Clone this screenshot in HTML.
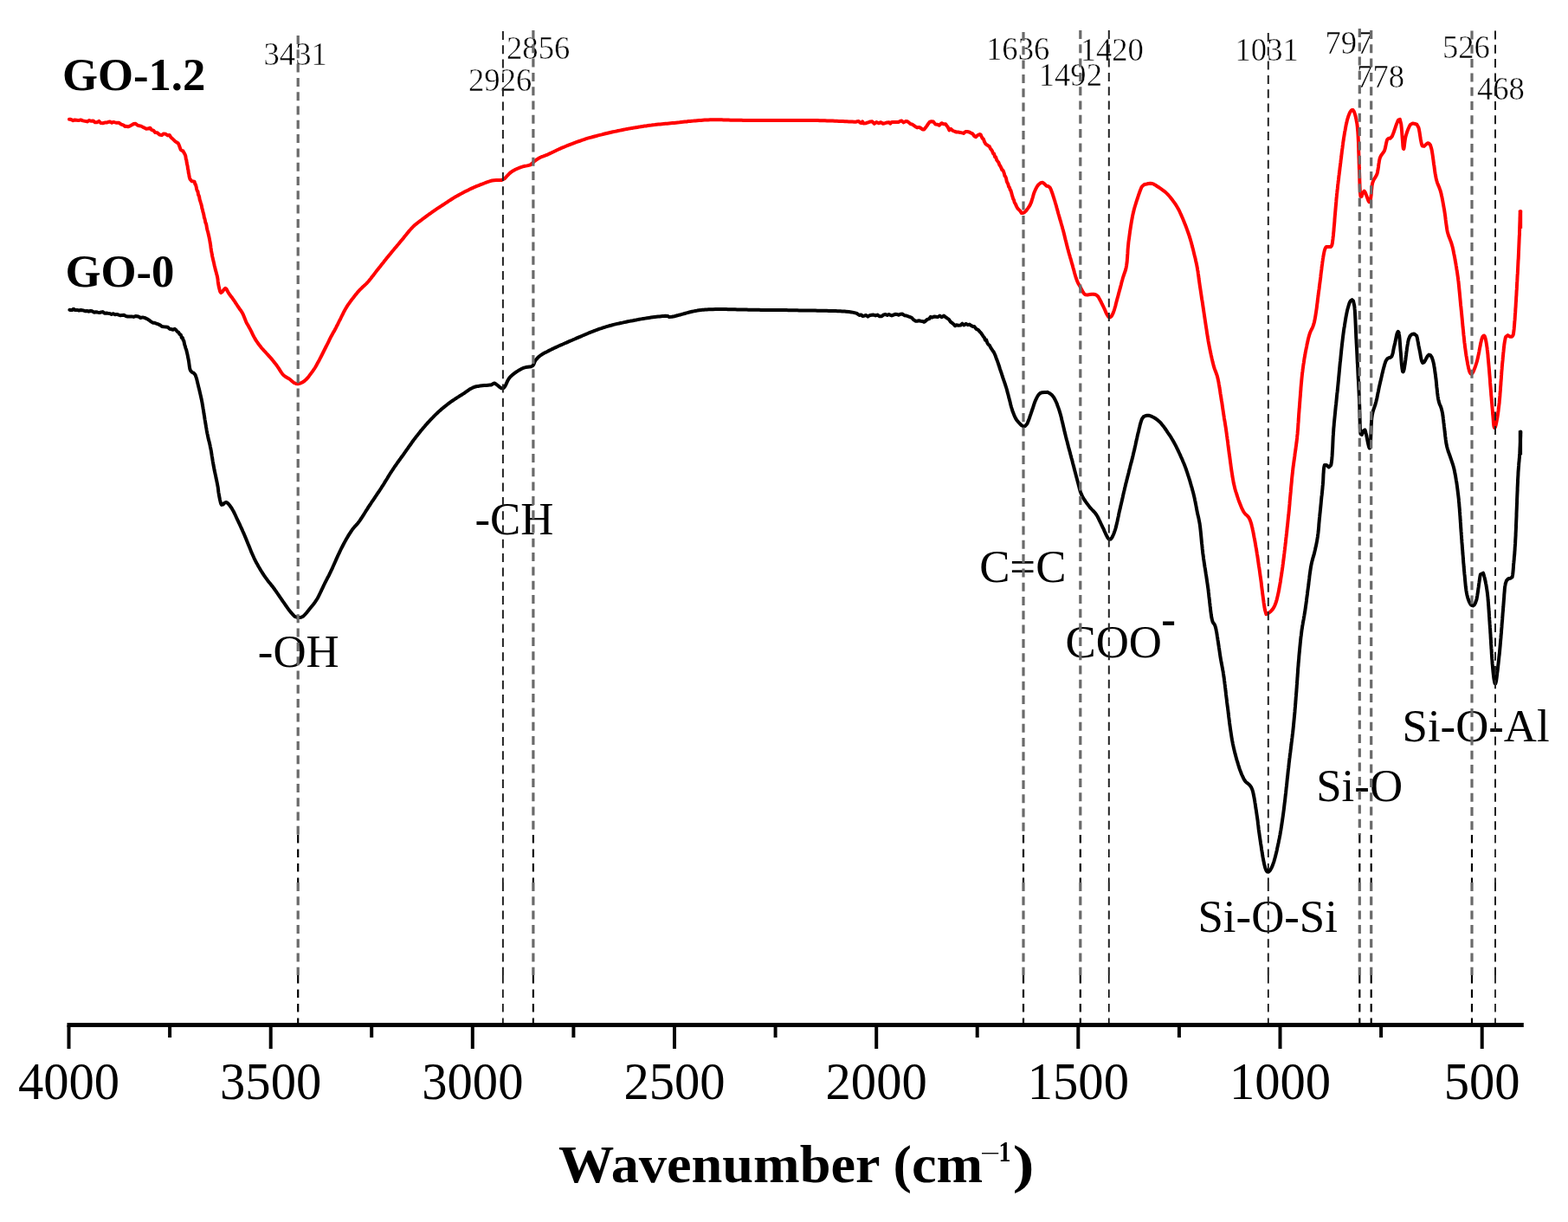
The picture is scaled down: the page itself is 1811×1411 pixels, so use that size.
<!DOCTYPE html>
<html><head><meta charset="utf-8"><title>FTIR spectra</title>
<style>html,body{margin:0;padding:0;background:#fff;}svg{display:block;}</style>
</head><body>
<svg width="1811" height="1411" viewBox="0 0 1811 1411">
<rect width="1811" height="1411" fill="#fff"/>
<path d="M79.9,137.8 L81.1,137.8 L82.6,138.2 L84.4,139.2 L86.4,138.4 L88.5,138.7 L90.8,139.1 L93.2,138.4 L95.7,139.4 L98.2,139.9 L100.7,140.4 L103.1,139.1 L105.4,139.8 L107.7,139.5 L109.7,141.3 L112.0,141.2 L114.3,139.9 L116.5,142.1 L118.8,142.2 L121.0,141.6 L123.1,141.6 L125.2,140.8 L127.3,140.6 L129.2,141.8 L131.1,140.9 L132.9,141.4 L134.5,141.7 L137.5,141.8 L140.0,143.6 L142.3,144.3 L144.3,145.9 L146.1,145.8 L147.8,146.3 L150.4,145.3 L152.3,144.3 L154.4,143.0 L156.5,142.7 L158.7,144.6 L161.0,145.2 L163.0,145.6 L165.2,146.9 L167.1,147.8 L168.9,148.8 L171.1,148.6 L173.4,147.7 L175.2,150.1 L177.2,150.7 L179.4,153.1 L181.7,153.2 L184.2,155.5 L186.8,156.1 L189.0,154.4 L191.4,154.8 L193.7,156.4 L195.7,155.9 L197.5,158.8 L198.9,159.9 L200.2,161.1 L202.5,163.4 L204.7,164.8 L205.7,165.3 L206.5,166.9 L207.6,169.8 L208.6,172.7 L209.9,173.9 L211.3,174.2 L212.5,176.4 L213.6,178.2 L214.3,180.1 L214.8,183.8 L215.3,184.7 L215.7,187.9 L216.1,190.0 L216.6,191.8 L217.0,195.2 L217.4,196.2 L217.8,199.8 L218.2,201.0 L218.6,203.9 L219.0,205.3 L219.5,206.9 L221.7,209.3 L224.0,209.6 L224.6,209.7 L225.3,212.6 L225.9,213.0 L226.6,215.5 L227.2,218.7 L227.9,220.4 L228.5,221.4 L229.1,225.3 L229.6,225.5 L230.2,227.6 L230.7,230.8 L231.2,231.9 L231.8,234.0 L232.3,235.6 L232.9,237.8 L233.4,240.8 L233.9,242.0 L234.4,244.7 L234.9,246.1 L235.4,248.3 L235.9,251.4 L236.4,252.4 L236.9,254.6 L237.4,257.3 L237.9,257.9 L238.4,260.0 L239.0,263.8 L239.5,265.8 L240.0,267.3 L240.5,269.5 L241.0,271.7 L241.5,273.8 L241.9,275.9 L242.3,278.0 L242.6,280.0 L243.0,282.0 L243.3,284.0 L243.5,286.0 L243.8,287.9 L244.1,289.9 L244.5,291.8 L244.8,293.7 L245.2,295.9 L245.7,298.0 L246.2,300.2 L246.7,302.3 L247.2,304.4 L247.6,306.4 L248.1,308.3 L248.5,310.0 L249.1,312.4 L249.7,314.5 L250.2,316.4 L250.7,318.2 L251.1,320.0 L251.5,322.4 L251.7,324.7 L252.0,326.9 L252.4,329.2 L252.9,331.8 L253.6,334.5 L254.3,336.8 L255.2,338.0 L256.8,336.9 L258.6,334.3 L260.3,332.9 L261.6,333.9 L262.7,336.0 L264.0,338.4 L265.2,340.1 L266.6,341.9 L268.1,343.8 L269.5,345.8 L270.9,347.8 L272.2,349.9 L273.6,352.0 L275.0,354.1 L276.4,356.2 L277.9,358.2 L279.3,360.3 L280.5,362.4 L281.5,364.7 L282.4,367.0 L283.3,369.3 L284.2,371.6 L285.3,373.7 L286.4,375.6 L287.6,377.7 L288.8,379.9 L289.7,381.6 L290.6,383.4 L291.5,385.3 L292.4,387.3 L293.4,389.1 L294.4,390.9 L295.6,392.9 L296.8,394.7 L298.1,396.5 L299.4,398.3 L300.8,400.1 L302.1,401.7 L303.5,403.3 L304.9,404.9 L306.4,406.4 L307.8,408.0 L309.1,409.4 L310.9,411.4 L312.5,413.2 L314.0,414.9 L315.5,416.7 L316.9,418.5 L318.3,420.3 L319.7,422.1 L321.1,424.1 L322.3,425.9 L323.5,427.9 L324.8,429.9 L326.1,431.7 L327.5,433.3 L329.4,434.8 L331.4,436.0 L333.3,437.1 L335.0,438.1 L337.4,440.3 L339.5,442.0 L341.8,442.9 L344.1,443.2 L346.7,442.6 L349.2,441.5 L351.5,440.0 L353.7,438.1 L355.2,436.4 L356.8,434.4 L358.3,432.4 L359.8,430.4 L361.3,428.3 L362.8,426.2 L364.2,424.0 L365.5,421.7 L366.8,419.3 L367.8,417.5 L368.8,415.7 L369.7,413.9 L370.7,412.0 L371.7,410.0 L372.7,408.0 L373.7,406.0 L374.7,404.0 L375.7,402.0 L376.7,400.0 L377.7,398.1 L378.7,396.1 L379.7,394.1 L380.6,392.2 L381.6,390.2 L382.6,388.2 L383.7,386.2 L384.9,384.1 L386.1,382.1 L387.2,380.0 L388.2,378.1 L389.1,376.2 L390.2,374.2 L391.5,371.5 L392.2,370.0 L393.1,368.4 L394.0,366.5 L394.9,364.6 L395.9,362.7 L396.9,360.7 L397.9,358.8 L398.8,357.1 L399.8,355.4 L401.0,353.4 L402.2,351.6 L403.5,349.8 L404.7,348.1 L405.9,346.5 L407.1,344.9 L408.3,343.4 L409.6,341.7 L410.9,340.1 L412.2,338.6 L413.4,337.1 L414.7,335.7 L416.1,334.2 L417.5,332.8 L418.8,331.5 L420.2,330.3 L421.7,328.9 L423.3,327.4 L425.0,325.5 L426.1,324.2 L427.3,322.7 L428.6,321.2 L429.8,319.5 L431.2,317.9 L432.5,316.1 L433.8,314.4 L435.2,312.6 L436.5,310.9 L437.8,309.3 L439.1,307.7 L440.3,306.1 L441.6,304.5 L442.9,302.9 L444.1,301.3 L445.4,299.7 L446.7,298.1 L448.0,296.5 L449.2,295.0 L450.5,293.4 L451.9,291.7 L453.3,290.0 L454.8,288.3 L456.2,286.6 L457.6,284.9 L459.0,283.2 L460.5,281.5 L461.9,279.8 L463.3,278.1 L464.7,276.4 L466.2,274.6 L467.6,272.8 L469.1,271.0 L470.5,269.2 L472.0,267.4 L473.4,265.8 L474.8,264.2 L476.1,262.8 L477.7,261.2 L479.2,259.8 L480.7,258.6 L482.1,257.5 L483.6,256.3 L485.2,255.1 L487.0,253.8 L488.5,252.6 L490.2,251.4 L491.9,250.1 L493.6,248.8 L495.4,247.5 L497.2,246.3 L498.9,245.0 L500.6,243.9 L502.1,242.8 L504.2,241.4 L506.1,240.1 L507.9,239.0 L509.6,237.9 L511.3,236.8 L513.1,235.6 L514.9,234.4 L516.8,233.2 L518.6,231.9 L520.5,230.7 L522.4,229.5 L524.2,228.4 L526.0,227.3 L527.9,226.3 L529.7,225.2 L531.5,224.2 L533.4,223.3 L535.2,222.3 L537.0,221.3 L538.9,220.4 L540.8,219.4 L542.6,218.5 L544.5,217.6 L546.3,216.8 L548.5,215.8 L550.7,214.9 L552.9,214.1 L555.1,213.2 L557.3,212.4 L559.5,211.5 L561.7,210.6 L563.9,209.8 L566.1,209.1 L568.3,208.5 L570.6,208.2 L573.1,208.1 L575.5,208.1 L577.7,208.1 L579.4,208.0 L582.7,206.3 L583.9,205.1 L585.3,203.5 L586.9,201.8 L588.6,200.1 L590.4,198.6 L592.1,197.5 L593.9,196.5 L595.7,195.5 L597.7,194.7 L599.6,193.8 L601.5,193.1 L603.8,192.4 L606.2,191.8 L608.6,191.4 L610.7,190.9 L612.5,190.3 L615.0,188.4 L616.9,186.4 L618.4,185.3 L619.9,184.2 L621.7,183.1 L623.6,182.0 L625.2,181.2 L627.0,180.6 L628.9,179.9 L630.8,179.2 L632.9,178.3 L634.8,177.4 L636.7,176.5 L638.8,175.5 L640.9,174.5 L642.9,173.5 L645.0,172.5 L647.0,171.6 L649.1,170.7 L651.1,169.9 L653.2,169.0 L655.2,168.2 L657.2,167.4 L659.2,166.6 L661.1,165.9 L663.1,165.1 L665.0,164.4 L667.0,163.7 L669.0,163.0 L670.9,162.3 L672.7,161.7 L674.5,161.1 L676.4,160.4 L678.7,159.7 L681.5,158.9 L683.1,158.5 L684.9,158.0 L686.7,157.5 L688.7,157.0 L690.8,156.4 L692.9,155.9 L695.1,155.4 L697.3,154.8 L699.4,154.3 L701.6,153.8 L703.7,153.3 L705.8,152.8 L707.8,152.3 L709.9,151.9 L711.9,151.5 L713.9,151.0 L715.9,150.6 L718.0,150.2 L720.0,149.8 L722.0,149.4 L724.0,149.0 L726.1,148.6 L728.1,148.3 L730.1,147.9 L732.1,147.6 L734.2,147.2 L736.2,146.9 L738.2,146.6 L740.2,146.2 L742.2,145.9 L744.3,145.6 L746.3,145.4 L748.3,145.1 L750.4,144.8 L752.4,144.6 L754.4,144.3 L756.4,144.1 L758.5,143.8 L760.5,143.6 L762.5,143.4 L764.5,143.2 L766.6,143.0 L768.6,142.8 L770.6,142.7 L772.6,142.5 L774.7,142.3 L776.7,142.1 L778.7,141.9 L780.7,141.7 L782.8,141.5 L784.8,141.3 L786.9,141.0 L789.0,140.8 L791.0,140.6 L793.1,140.4 L795.1,140.1 L797.1,139.9 L799.1,139.7 L801.1,139.6 L803.0,139.4 L805.3,139.2 L807.4,139.0 L809.6,138.9 L811.7,138.7 L813.7,138.6 L815.8,138.5 L818.0,138.4 L820.2,138.3 L822.4,138.2 L824.8,138.2 L826.6,138.2 L828.4,138.2 L830.2,138.2 L831.9,138.3 L833.7,138.3 L835.5,138.4 L837.4,138.4 L839.4,138.5 L841.5,138.6 L843.7,138.7 L846.1,138.7 L848.7,138.8 L851.5,138.8 L853.1,138.8 L854.8,138.8 L856.5,138.8 L858.3,138.9 L860.2,138.9 L862.1,138.9 L864.1,138.9 L866.1,138.9 L868.1,138.9 L870.2,138.9 L872.3,138.9 L874.4,138.9 L876.6,138.9 L878.7,138.9 L880.9,138.9 L883.1,138.9 L885.3,139.0 L887.4,139.0 L889.6,139.0 L891.7,139.0 L893.9,139.0 L896.0,139.0 L898.1,139.0 L900.1,139.0 L902.1,139.0 L904.1,139.0 L906.2,139.0 L908.2,139.0 L910.2,139.0 L912.2,139.0 L914.3,139.0 L916.3,139.0 L918.3,139.0 L920.3,139.0 L922.4,139.0 L924.4,139.0 L926.4,139.0 L928.5,139.0 L930.5,139.0 L932.5,139.0 L934.5,139.0 L936.6,139.0 L938.6,139.0 L940.6,139.1 L942.6,139.1 L944.6,139.1 L946.7,139.2 L948.7,139.2 L950.8,139.3 L952.9,139.3 L955.1,139.4 L957.3,139.5 L959.6,139.5 L961.9,139.6 L964.2,139.7 L966.6,139.8 L968.9,139.9 L971.3,140.0 L973.6,140.1 L975.9,140.2 L978.1,140.3 L980.3,140.4 L982.4,140.5 L984.5,140.6 L986.5,140.7 L988.4,140.8 L990.2,140.2 L991.8,140.1 L993.4,141.7 L994.8,142.2 L996.1,140.4 L997.3,142.4 L1000.3,142.3 L1001.6,141.6 L1003.3,141.2 L1005.3,140.4 L1007.4,140.3 L1009.8,142.8 L1012.2,141.0 L1014.8,142.3 L1017.3,141.2 L1019.8,142.8 L1022.2,142.2 L1024.5,141.5 L1026.6,141.2 L1028.4,142.6 L1030.0,140.9 L1033.7,140.9 L1035.8,141.0 L1037.3,141.1 L1039.1,140.2 L1041.4,139.4 L1043.7,141.4 L1045.9,140.1 L1048.2,140.3 L1050.0,141.8 L1051.8,143.3 L1053.6,143.5 L1055.4,144.8 L1057.3,146.2 L1059.3,147.4 L1061.4,146.9 L1063.5,147.9 L1065.5,149.5 L1067.3,149.4 L1069.1,147.3 L1070.5,145.4 L1072.0,143.1 L1073.9,140.7 L1075.8,140.3 L1078.1,140.6 L1080.4,143.6 L1082.7,143.7 L1084.7,144.8 L1087.5,142.2 L1090.0,143.3 L1092.1,143.2 L1093.6,145.4 L1094.7,146.6 L1096.3,150.3 L1098.1,148.8 L1100.2,150.7 L1102.4,151.7 L1104.6,152.5 L1106.7,152.6 L1108.9,152.9 L1110.9,153.4 L1112.9,153.9 L1115.2,151.9 L1117.3,152.0 L1119.5,152.5 L1121.4,153.6 L1123.3,154.3 L1125.2,157.0 L1126.9,158.2 L1129.4,156.0 L1131.6,155.0 L1132.6,155.4 L1133.6,157.6 L1134.7,159.7 L1135.8,160.4 L1137.0,163.7 L1138.3,166.1 L1139.7,167.2 L1141.1,168.2 L1142.6,168.9 L1144.0,171.7 L1145.0,172.9 L1146.0,174.4 L1147.1,177.4 L1148.1,177.4 L1149.1,181.2 L1150.1,181.3 L1151.1,184.6 L1152.2,186.2 L1153.3,187.5 L1154.4,190.5 L1155.4,191.8 L1156.4,193.8 L1157.3,196.3 L1158.2,196.5 L1159.0,197.8 L1159.8,200.3 L1160.5,203.2 L1161.2,203.8 L1162.0,205.7 L1162.8,209.6 L1163.5,211.0 L1164.3,212.5 L1165.1,215.7 L1165.9,216.3 L1166.7,219.1 L1167.4,219.9 L1168.2,222.6 L1169.0,225.7 L1169.7,227.9 L1170.3,229.9 L1171.0,230.7 L1171.6,233.3 L1172.2,234.5 L1172.9,235.6 L1174.2,238.6 L1175.4,240.8 L1176.8,242.1 L1178.3,243.6 L1179.9,246.1 L1181.5,245.9 L1183.0,245.4 L1184.6,243.9 L1186.1,242.0 L1187.3,240.4 L1188.5,238.6 L1189.7,236.6 L1190.8,234.2 L1191.5,232.3 L1192.1,230.2 L1192.8,228.0 L1193.4,225.7 L1194.0,223.6 L1194.7,221.7 L1195.8,219.2 L1197.0,216.8 L1198.2,214.8 L1199.4,213.2 L1201.8,211.2 L1204.1,210.8 L1205.7,211.7 L1207.3,213.3 L1208.8,214.7 L1210.7,215.0 L1212.7,216.6 L1213.4,217.9 L1214.1,219.6 L1214.8,221.5 L1215.6,223.7 L1216.3,226.0 L1217.1,228.3 L1217.8,230.6 L1218.4,232.4 L1218.9,234.3 L1219.5,236.3 L1220.1,238.3 L1220.6,240.3 L1221.2,242.4 L1221.8,244.5 L1222.3,246.5 L1222.9,248.5 L1223.5,250.5 L1224.0,252.4 L1224.6,254.3 L1225.2,256.3 L1225.7,258.2 L1226.3,260.2 L1226.9,262.2 L1227.4,264.2 L1228.0,266.3 L1228.5,268.2 L1229.0,270.3 L1229.5,272.3 L1230.0,274.4 L1230.5,276.5 L1231.1,278.6 L1231.6,280.7 L1232.1,282.7 L1232.6,284.7 L1233.1,286.7 L1233.7,288.8 L1234.2,290.8 L1234.8,292.9 L1235.4,294.8 L1235.9,296.8 L1236.5,298.7 L1237.1,300.7 L1237.6,302.6 L1238.2,304.6 L1238.8,306.6 L1239.3,308.7 L1239.9,310.8 L1240.5,312.9 L1241.0,315.0 L1241.6,317.0 L1242.2,319.0 L1242.7,320.8 L1243.3,322.4 L1244.3,325.0 L1245.3,327.2 L1246.4,329.1 L1247.4,330.9 L1248.4,332.7 L1249.6,335.0 L1250.8,337.2 L1252.0,339.0 L1253.5,340.3 L1255.9,340.6 L1258.6,340.0 L1261.1,339.7 L1263.3,339.8 L1265.4,340.2 L1267.5,341.6 L1268.6,342.9 L1269.6,344.7 L1270.7,346.7 L1271.8,348.8 L1272.8,351.0 L1273.9,353.1 L1274.8,355.0 L1275.8,357.1 L1276.7,359.3 L1277.6,361.4 L1278.6,363.3 L1279.5,364.8 L1280.3,365.8 L1282.1,366.4 L1283.7,365.2 L1285.4,362.0 L1285.9,360.7 L1286.5,359.1 L1287.1,357.3 L1287.7,355.3 L1288.3,353.2 L1288.8,351.0 L1289.4,348.8 L1290.0,346.5 L1290.6,344.3 L1291.2,342.2 L1291.7,340.3 L1292.3,338.0 L1292.9,335.8 L1293.5,333.6 L1294.1,331.4 L1294.7,329.2 L1295.2,327.1 L1295.7,325.1 L1296.3,323.1 L1296.8,321.2 L1297.5,319.0 L1298.2,317.0 L1298.8,315.2 L1299.5,313.3 L1300.1,311.4 L1300.6,309.2 L1301.1,306.6 L1301.3,304.9 L1301.6,303.1 L1301.8,301.1 L1301.9,299.1 L1302.1,297.0 L1302.2,294.8 L1302.4,292.7 L1302.5,290.5 L1302.6,288.3 L1302.8,286.1 L1303.0,284.0 L1303.2,282.0 L1303.4,279.8 L1303.7,277.6 L1304.0,275.4 L1304.3,273.2 L1304.6,271.0 L1304.9,268.8 L1305.2,266.6 L1305.5,264.6 L1305.8,262.6 L1306.1,260.6 L1306.4,258.8 L1306.8,256.4 L1307.2,254.2 L1307.6,252.2 L1307.9,250.2 L1308.3,248.3 L1308.7,246.5 L1309.2,244.6 L1309.6,242.8 L1310.1,240.7 L1310.7,238.7 L1311.3,236.7 L1311.9,234.8 L1312.5,232.9 L1313.1,231.0 L1313.8,229.0 L1314.5,226.9 L1315.2,224.7 L1316.0,222.5 L1316.8,220.3 L1317.6,218.3 L1318.3,216.6 L1319.1,215.2 L1321.7,213.0 L1324.4,212.5 L1326.4,212.0 L1328.5,211.7 L1330.8,212.0 L1332.6,212.7 L1334.4,213.7 L1336.3,215.0 L1338.3,216.3 L1340.0,217.4 L1341.7,218.6 L1343.4,219.8 L1345.2,221.2 L1346.8,222.6 L1348.4,224.1 L1349.9,225.8 L1351.4,227.5 L1352.8,229.3 L1354.2,231.1 L1355.5,232.9 L1356.8,234.7 L1358.1,236.5 L1359.3,238.5 L1360.6,240.7 L1361.5,242.4 L1362.4,244.2 L1363.3,246.2 L1364.2,248.1 L1365.1,250.2 L1366.0,252.3 L1366.9,254.5 L1367.6,256.2 L1368.3,258.0 L1369.1,259.9 L1369.8,261.7 L1370.5,263.6 L1371.2,265.6 L1371.9,267.5 L1372.6,269.5 L1373.3,271.5 L1373.9,273.5 L1374.6,275.6 L1375.2,277.7 L1375.8,279.8 L1376.4,282.0 L1376.9,284.1 L1377.5,286.3 L1378.1,288.5 L1378.6,290.6 L1379.1,292.7 L1379.6,294.8 L1380.2,297.0 L1380.7,299.1 L1381.1,301.2 L1381.6,303.3 L1382.1,305.5 L1382.5,307.6 L1382.9,309.8 L1383.2,311.8 L1383.6,313.7 L1383.8,315.7 L1384.1,317.6 L1384.4,319.6 L1384.6,321.6 L1384.9,323.6 L1385.2,325.7 L1385.5,327.8 L1385.8,330.0 L1386.1,331.9 L1386.4,333.8 L1386.7,335.8 L1387.0,337.7 L1387.3,339.8 L1387.6,341.8 L1387.9,343.9 L1388.2,345.9 L1388.6,348.0 L1388.9,350.0 L1389.2,352.1 L1389.5,354.1 L1389.8,356.1 L1390.1,358.1 L1390.4,360.2 L1390.7,362.2 L1391.0,364.3 L1391.3,366.3 L1391.6,368.3 L1391.9,370.3 L1392.2,372.3 L1392.5,374.3 L1392.8,376.3 L1393.1,378.2 L1393.5,380.5 L1393.8,382.7 L1394.1,384.9 L1394.5,387.1 L1394.8,389.2 L1395.2,391.3 L1395.5,393.5 L1395.9,395.6 L1396.3,397.7 L1396.7,399.9 L1397.1,401.9 L1397.5,403.9 L1397.9,406.0 L1398.4,408.1 L1398.8,410.2 L1399.3,412.2 L1399.7,414.2 L1400.2,416.2 L1400.6,418.1 L1401.1,419.9 L1401.5,421.6 L1402.2,424.0 L1402.9,426.1 L1403.6,428.0 L1404.3,429.8 L1405.0,431.7 L1405.7,433.7 L1406.3,436.0 L1406.7,437.8 L1407.1,439.7 L1407.5,441.6 L1407.8,443.6 L1408.2,445.6 L1408.5,447.7 L1408.9,449.9 L1409.2,452.1 L1409.5,454.3 L1409.9,456.5 L1410.2,458.4 L1410.5,460.4 L1410.8,462.4 L1411.2,464.4 L1411.5,466.5 L1411.8,468.6 L1412.1,470.7 L1412.4,472.8 L1412.7,474.8 L1413.0,476.8 L1413.3,478.7 L1413.6,480.6 L1413.9,482.8 L1414.2,484.6 L1414.5,486.2 L1414.8,487.8 L1415.0,489.4 L1415.3,491.3 L1415.7,493.6 L1416.1,496.5 L1416.6,500.0 L1416.8,501.5 L1417.0,503.1 L1417.3,504.9 L1417.5,506.8 L1417.8,508.7 L1418.1,510.8 L1418.3,512.9 L1418.6,515.2 L1418.9,517.4 L1419.2,519.7 L1419.5,522.1 L1419.8,524.4 L1420.2,526.8 L1420.5,529.2 L1420.8,531.5 L1421.1,533.9 L1421.4,536.1 L1421.7,538.4 L1422.0,540.5 L1422.3,542.6 L1422.6,544.6 L1422.9,546.5 L1423.2,548.3 L1423.4,550.0 L1423.7,551.5 L1424.3,554.9 L1424.8,557.8 L1425.4,560.2 L1425.9,562.4 L1426.3,564.3 L1426.8,566.0 L1427.3,567.6 L1427.9,569.3 L1428.4,571.0 L1429.0,572.8 L1429.7,575.0 L1430.4,577.1 L1431.2,579.2 L1432.0,581.3 L1432.8,583.3 L1433.6,585.3 L1434.4,587.1 L1435.3,588.9 L1436.1,590.5 L1437.4,592.5 L1438.7,593.9 L1440.1,595.1 L1441.5,596.5 L1442.8,598.4 L1444.0,601.1 L1444.5,602.6 L1445.0,604.2 L1445.5,605.9 L1445.9,607.7 L1446.4,609.6 L1446.8,611.7 L1447.3,613.8 L1447.7,615.9 L1448.1,618.1 L1448.5,620.4 L1449.0,622.6 L1449.4,624.9 L1449.8,627.2 L1450.2,629.5 L1450.5,631.4 L1450.9,633.3 L1451.2,635.3 L1451.5,637.3 L1451.8,639.3 L1452.2,641.3 L1452.5,643.4 L1452.8,645.5 L1453.1,647.6 L1453.4,649.7 L1453.7,651.9 L1454.0,654.0 L1454.4,656.2 L1454.7,658.3 L1455.0,660.5 L1455.3,662.7 L1455.6,664.9 L1455.9,666.9 L1456.2,669.0 L1456.5,671.2 L1456.8,673.5 L1457.0,675.8 L1457.3,678.1 L1457.6,680.5 L1457.9,682.8 L1458.2,685.2 L1458.5,687.5 L1458.8,689.7 L1459.1,691.9 L1459.4,694.0 L1459.6,696.0 L1459.9,697.9 L1460.2,699.6 L1460.4,701.2 L1460.7,702.7 L1460.9,703.9 L1462.4,709.3 L1464.4,708.3 L1465.4,707.7 L1466.6,706.9 L1467.9,705.7 L1469.3,704.2 L1470.7,702.3 L1472.1,699.8 L1473.3,696.8 L1473.7,695.5 L1474.2,694.0 L1474.6,692.6 L1475.0,691.0 L1475.4,689.3 L1475.8,687.6 L1476.2,685.8 L1476.6,684.0 L1477.0,682.0 L1477.4,680.0 L1477.7,677.9 L1478.1,675.8 L1478.5,673.6 L1478.9,671.3 L1479.2,668.9 L1479.6,666.5 L1480.0,664.0 L1480.4,661.4 L1480.6,659.8 L1480.9,658.1 L1481.1,656.3 L1481.4,654.5 L1481.6,652.7 L1481.9,650.8 L1482.1,648.8 L1482.4,646.9 L1482.6,644.9 L1482.9,642.9 L1483.1,640.8 L1483.4,638.7 L1483.6,636.7 L1483.9,634.5 L1484.1,632.4 L1484.4,630.3 L1484.6,628.1 L1484.9,626.0 L1485.1,623.8 L1485.3,621.7 L1485.6,619.5 L1485.8,617.4 L1486.1,615.3 L1486.3,613.2 L1486.5,611.1 L1486.7,609.0 L1487.0,606.9 L1487.2,604.9 L1487.4,602.9 L1487.6,600.8 L1487.8,598.8 L1488.0,596.7 L1488.3,594.6 L1488.5,592.5 L1488.7,590.3 L1488.9,588.2 L1489.1,586.1 L1489.3,584.0 L1489.5,581.9 L1489.6,579.7 L1489.8,577.6 L1490.0,575.5 L1490.2,573.4 L1490.4,571.4 L1490.6,569.3 L1490.8,567.2 L1490.9,565.2 L1491.1,563.2 L1491.3,561.2 L1491.5,559.2 L1491.7,557.3 L1491.9,555.3 L1492.0,553.4 L1492.2,551.6 L1492.4,549.8 L1492.6,548.0 L1492.8,546.2 L1493.1,543.8 L1493.3,541.4 L1493.6,539.1 L1493.9,536.9 L1494.2,534.7 L1494.5,532.5 L1494.8,530.4 L1495.1,528.3 L1495.4,526.2 L1495.6,524.2 L1495.9,522.2 L1496.2,520.3 L1496.5,518.4 L1496.7,516.4 L1497.0,514.6 L1497.2,512.7 L1497.5,510.9 L1497.7,509.0 L1497.9,507.2 L1498.1,505.4 L1498.3,503.1 L1498.6,500.9 L1498.7,498.8 L1498.9,496.8 L1499.1,494.8 L1499.2,492.9 L1499.3,491.0 L1499.4,489.1 L1499.6,487.2 L1499.7,485.3 L1499.8,483.2 L1500.0,481.1 L1500.1,478.9 L1500.3,476.5 L1500.5,474.0 L1500.6,472.3 L1500.8,470.5 L1500.9,468.6 L1501.1,466.6 L1501.2,464.7 L1501.4,462.6 L1501.5,460.6 L1501.7,458.5 L1501.9,456.3 L1502.0,454.2 L1502.2,452.0 L1502.4,449.8 L1502.5,447.7 L1502.7,445.5 L1502.9,443.3 L1503.1,441.2 L1503.3,439.0 L1503.5,436.9 L1503.7,434.9 L1503.9,432.9 L1504.1,430.9 L1504.4,429.0 L1504.6,427.1 L1504.9,424.9 L1505.2,422.7 L1505.5,420.5 L1505.9,418.3 L1506.2,416.1 L1506.5,413.9 L1506.9,411.8 L1507.3,409.7 L1507.6,407.7 L1508.0,405.6 L1508.4,403.6 L1508.8,401.7 L1509.2,399.8 L1509.5,398.0 L1509.9,396.2 L1510.3,394.5 L1510.7,392.8 L1511.0,391.2 L1511.4,389.7 L1512.2,386.9 L1512.9,384.6 L1513.7,382.7 L1514.5,381.0 L1515.3,379.5 L1516.1,377.8 L1516.8,375.9 L1517.5,373.7 L1518.2,371.0 L1518.5,369.4 L1518.8,367.8 L1519.1,366.1 L1519.4,364.3 L1519.7,362.4 L1520.0,360.5 L1520.3,358.5 L1520.6,356.5 L1520.9,354.4 L1521.1,352.3 L1521.4,350.2 L1521.7,348.1 L1521.9,345.9 L1522.2,343.8 L1522.5,341.6 L1522.7,339.5 L1523.0,337.4 L1523.3,335.3 L1523.6,333.3 L1523.8,331.2 L1524.1,329.0 L1524.4,326.8 L1524.7,324.5 L1525.0,322.2 L1525.3,319.9 L1525.5,317.6 L1525.8,315.3 L1526.1,313.0 L1526.4,310.8 L1526.6,308.6 L1526.9,306.5 L1527.2,304.5 L1527.4,302.6 L1527.7,300.7 L1527.9,299.1 L1528.2,297.5 L1528.4,296.1 L1529.2,291.9 L1529.8,289.1 L1530.4,287.4 L1531.0,286.1 L1531.8,285.1 L1534.4,285.0 L1536.9,285.1 L1537.7,284.3 L1538.2,283.4 L1538.8,281.0 L1539.5,275.7 L1539.6,274.4 L1539.8,273.0 L1540.0,271.4 L1540.1,269.7 L1540.3,267.9 L1540.5,266.0 L1540.6,264.0 L1540.8,261.9 L1541.0,259.8 L1541.2,257.6 L1541.4,255.3 L1541.5,253.0 L1541.7,250.7 L1541.9,248.4 L1542.1,246.1 L1542.3,243.8 L1542.5,241.5 L1542.7,239.2 L1542.9,237.0 L1543.1,234.8 L1543.3,232.7 L1543.4,230.7 L1543.6,228.7 L1543.8,226.9 L1544.0,224.5 L1544.3,222.2 L1544.5,220.0 L1544.8,217.8 L1545.0,215.6 L1545.2,213.4 L1545.5,211.3 L1545.7,209.3 L1546.0,207.2 L1546.2,205.2 L1546.4,203.2 L1546.7,201.3 L1546.9,199.3 L1547.2,197.4 L1547.4,195.5 L1547.6,193.5 L1547.9,191.6 L1548.1,189.7 L1548.4,187.5 L1548.6,185.4 L1548.9,183.2 L1549.2,181.1 L1549.4,179.0 L1549.7,176.9 L1549.9,174.8 L1550.2,172.8 L1550.5,170.7 L1550.7,168.7 L1551.0,166.8 L1551.2,164.9 L1551.5,163.0 L1551.8,161.2 L1552.0,159.5 L1552.3,157.8 L1552.7,155.2 L1553.1,152.7 L1553.6,150.3 L1554.0,148.0 L1554.4,145.8 L1554.8,143.7 L1555.3,141.8 L1555.7,139.9 L1556.1,138.2 L1556.6,136.6 L1557.5,133.7 L1558.5,131.2 L1559.5,129.2 L1560.5,127.8 L1561.4,127.0 L1562.7,127.1 L1563.9,128.9 L1565.1,132.3 L1565.4,133.6 L1565.8,135.0 L1566.1,136.6 L1566.5,138.2 L1566.8,140.1 L1567.2,142.1 L1567.5,144.3 L1567.8,146.8 L1568.0,149.5 L1568.3,152.5 L1568.4,154.1 L1568.5,155.7 L1568.6,157.5 L1568.7,159.4 L1568.8,161.3 L1568.9,163.3 L1569.0,165.4 L1569.0,167.5 L1569.1,169.7 L1569.2,171.9 L1569.2,174.1 L1569.3,176.4 L1569.4,178.6 L1569.4,180.8 L1569.5,183.0 L1569.6,185.1 L1569.6,187.2 L1569.7,189.3 L1569.8,191.3 L1569.8,193.2 L1569.9,195.0 L1570.0,197.5 L1570.1,200.1 L1570.2,202.7 L1570.3,205.3 L1570.3,207.8 L1570.4,210.4 L1570.5,212.8 L1570.6,215.2 L1570.7,217.4 L1570.8,219.5 L1570.9,221.4 L1571.0,223.1 L1571.2,224.6 L1571.3,225.9 L1571.5,226.9 L1572.6,226.9 L1574.0,222.7 L1575.7,220.6 L1576.5,221.7 L1577.5,223.9 L1578.5,226.6 L1579.5,229.3 L1580.4,231.7 L1581.3,233.2 L1582.1,233.3 L1582.5,232.5 L1582.8,231.2 L1583.1,229.4 L1583.4,227.3 L1583.7,224.9 L1583.9,222.3 L1584.1,219.7 L1584.4,217.2 L1584.6,214.8 L1584.9,212.7 L1585.3,211.0 L1586.3,208.3 L1587.4,206.3 L1588.5,204.6 L1589.6,202.8 L1590.6,200.4 L1591.0,198.7 L1591.4,196.7 L1591.7,194.6 L1592.1,192.3 L1592.3,190.1 L1592.7,187.9 L1593.0,185.8 L1593.4,183.9 L1593.8,182.3 L1594.8,180.1 L1595.9,178.4 L1597.0,177.0 L1598.1,175.6 L1599.1,173.8 L1599.7,171.8 L1600.2,169.5 L1600.7,167.1 L1601.2,164.7 L1601.7,162.6 L1602.3,161.0 L1603.8,159.8 L1605.6,159.7 L1607.6,157.8 L1608.3,156.4 L1609.0,154.6 L1609.8,152.5 L1610.6,150.2 L1611.4,147.8 L1612.2,145.4 L1613.0,143.2 L1613.8,141.3 L1614.4,139.7 L1615.0,138.7 L1616.9,137.9 L1618.2,143.0 L1618.4,144.4 L1618.6,146.2 L1618.8,148.3 L1619.0,150.7 L1619.2,153.2 L1619.4,155.8 L1619.6,158.5 L1619.8,161.1 L1620.0,163.6 L1620.2,165.9 L1620.3,167.9 L1620.5,169.6 L1620.7,170.9 L1620.9,171.7 L1621.3,171.9 L1621.6,170.8 L1621.9,168.7 L1622.2,166.0 L1622.6,163.0 L1623.0,160.2 L1623.5,157.8 L1624.1,155.7 L1624.8,153.5 L1625.6,151.2 L1626.4,149.0 L1627.3,147.0 L1628.1,145.3 L1628.9,144.0 L1631.6,142.4 L1634.2,143.0 L1636.4,143.7 L1638.4,147.2 L1638.8,148.7 L1639.2,150.8 L1639.6,153.1 L1640.0,155.7 L1640.4,158.3 L1640.8,160.9 L1641.3,163.4 L1641.7,165.5 L1642.2,167.3 L1642.7,168.5 L1644.8,168.9 L1647.1,166.6 L1649.1,165.3 L1650.6,165.7 L1651.9,167.2 L1653.3,171.7 L1653.6,173.0 L1653.9,174.5 L1654.2,176.3 L1654.5,178.2 L1654.8,180.2 L1655.1,182.4 L1655.4,184.6 L1655.7,186.9 L1656.0,189.3 L1656.4,191.6 L1656.7,193.9 L1657.0,196.2 L1657.3,198.4 L1657.6,200.4 L1658.0,202.4 L1658.3,204.1 L1658.6,205.7 L1659.3,208.5 L1660.0,210.8 L1660.7,212.8 L1661.4,214.4 L1662.1,216.0 L1662.7,217.7 L1663.4,219.5 L1664.0,221.6 L1664.5,223.5 L1664.9,225.5 L1665.4,227.5 L1665.8,229.6 L1666.2,231.7 L1666.6,233.9 L1667.0,236.1 L1667.4,238.3 L1667.8,240.6 L1668.2,242.9 L1668.5,244.9 L1668.8,246.9 L1669.1,249.0 L1669.4,251.2 L1669.6,253.3 L1669.9,255.5 L1670.2,257.7 L1670.5,259.8 L1670.8,261.9 L1671.1,263.9 L1671.4,265.9 L1671.8,267.7 L1672.4,269.9 L1673.0,271.8 L1673.6,273.6 L1674.3,275.3 L1674.9,276.9 L1675.6,278.7 L1676.3,280.7 L1677.0,283.0 L1677.7,285.6 L1678.1,287.2 L1678.4,288.8 L1678.8,290.6 L1679.1,292.4 L1679.5,294.2 L1679.9,296.2 L1680.3,298.2 L1680.6,300.2 L1681.0,302.3 L1681.4,304.4 L1681.7,306.5 L1682.1,308.6 L1682.4,310.8 L1682.8,312.9 L1683.1,315.1 L1683.4,317.2 L1683.7,319.3 L1684.0,321.3 L1684.2,323.3 L1684.5,325.2 L1684.7,327.2 L1684.9,329.2 L1685.1,331.2 L1685.3,333.2 L1685.5,335.2 L1685.7,337.3 L1685.9,339.3 L1686.1,341.4 L1686.3,343.6 L1686.5,345.7 L1686.7,347.9 L1686.9,350.1 L1687.1,352.4 L1687.4,354.7 L1687.6,357.0 L1687.8,358.9 L1688.0,360.9 L1688.2,362.9 L1688.4,365.0 L1688.6,367.1 L1688.8,369.2 L1689.0,371.4 L1689.2,373.6 L1689.4,375.9 L1689.6,378.1 L1689.9,380.4 L1690.1,382.6 L1690.3,384.8 L1690.5,387.0 L1690.8,389.2 L1691.0,391.3 L1691.2,393.4 L1691.4,395.5 L1691.7,397.4 L1691.9,399.3 L1692.1,401.2 L1692.4,402.9 L1692.6,404.6 L1693.0,407.5 L1693.4,410.3 L1693.9,413.0 L1694.3,415.7 L1694.8,418.2 L1695.2,420.6 L1695.7,422.9 L1696.1,424.9 L1696.6,426.8 L1697.0,428.4 L1697.5,429.7 L1698.0,430.7 L1698.5,431.4 L1699.4,431.8 L1700.4,431.1 L1701.4,429.5 L1702.4,427.3 L1703.5,424.6 L1704.5,421.6 L1705.5,418.5 L1706.0,416.9 L1706.4,415.1 L1706.9,413.0 L1707.4,410.7 L1707.9,408.3 L1708.4,405.8 L1708.8,403.3 L1709.3,400.9 L1709.8,398.5 L1710.2,396.2 L1710.7,394.2 L1711.1,392.3 L1711.6,390.8 L1712.0,389.6 L1712.4,388.8 L1713.3,387.7 L1714.2,387.6 L1715.0,388.7 L1715.7,391.1 L1716.5,395.0 L1717.4,400.7 L1717.6,402.0 L1717.7,403.4 L1717.9,404.9 L1718.1,406.5 L1718.3,408.3 L1718.5,410.1 L1718.6,412.1 L1718.8,414.1 L1719.0,416.2 L1719.2,418.4 L1719.4,420.6 L1719.6,422.9 L1719.8,425.2 L1720.0,427.5 L1720.2,429.9 L1720.4,432.3 L1720.6,434.7 L1720.8,437.1 L1721.0,439.5 L1721.1,441.9 L1721.3,444.3 L1721.5,446.7 L1721.7,449.0 L1721.9,451.2 L1722.1,453.4 L1722.2,455.6 L1722.4,457.6 L1722.6,459.6 L1722.7,461.5 L1722.9,463.3 L1723.0,465.0 L1723.2,466.6 L1723.3,468.1 L1723.6,471.6 L1723.9,474.9 L1724.1,478.0 L1724.4,480.8 L1724.6,483.4 L1724.8,485.8 L1724.9,487.9 L1725.1,489.7 L1725.3,491.2 L1725.5,492.4 L1725.8,493.3 L1726.0,493.8 L1726.3,494.0 L1726.6,493.8 L1727.0,493.1 L1727.3,492.0 L1727.7,490.6 L1728.1,488.9 L1728.5,486.9 L1728.9,484.6 L1729.4,482.1 L1729.8,479.5 L1730.2,476.8 L1730.6,473.9 L1730.9,471.0 L1731.3,468.1 L1731.5,466.5 L1731.7,464.7 L1731.8,462.9 L1732.0,461.0 L1732.2,459.0 L1732.4,456.9 L1732.5,454.8 L1732.7,452.6 L1732.9,450.4 L1733.0,448.1 L1733.2,445.8 L1733.4,443.5 L1733.5,441.2 L1733.7,439.0 L1733.9,436.7 L1734.0,434.4 L1734.2,432.2 L1734.3,430.1 L1734.5,427.9 L1734.7,425.9 L1734.8,423.9 L1735.0,422.0 L1735.1,420.2 L1735.3,418.5 L1735.6,415.7 L1735.8,413.0 L1736.1,410.3 L1736.3,407.7 L1736.6,405.2 L1736.8,402.8 L1737.1,400.6 L1737.3,398.4 L1737.6,396.4 L1737.9,394.5 L1738.2,392.8 L1738.5,391.3 L1738.8,390.0 L1739.2,388.8 L1741.5,387.1 L1744.1,388.7 L1746.2,388.8 L1746.8,388.0 L1747.3,387.3 L1747.7,386.5 L1748.0,385.2 L1748.3,383.0 L1748.7,379.7 L1749.1,374.9 L1749.2,373.6 L1749.3,372.2 L1749.4,370.7 L1749.6,369.2 L1749.7,367.5 L1749.8,365.8 L1749.9,364.0 L1750.0,362.2 L1750.2,360.2 L1750.3,358.2 L1750.4,356.2 L1750.6,354.1 L1750.7,352.0 L1750.8,349.8 L1751.0,347.6 L1751.1,345.4 L1751.2,343.1 L1751.4,340.8 L1751.5,338.5 L1751.6,336.2 L1751.8,333.9 L1751.9,331.6 L1752.0,329.3 L1752.1,327.0 L1752.3,324.7 L1752.4,322.4 L1752.5,320.2 L1752.6,317.9 L1752.8,315.7 L1752.9,313.6 L1753.0,311.5 L1753.1,309.4 L1753.2,307.3 L1753.3,305.2 L1753.4,303.0 L1753.5,300.8 L1753.7,298.5 L1753.8,296.2 L1753.9,293.8 L1754.0,291.5 L1754.1,289.1 L1754.2,286.7 L1754.3,284.3 L1754.4,282.0 L1754.5,279.6 L1754.6,277.2 L1754.7,274.9 L1754.8,272.6 L1755.0,270.3 L1755.0,268.0 L1755.1,265.8 L1755.2,263.7 L1755.3,261.6 L1755.4,259.5 L1755.5,257.6 L1755.6,255.7 L1755.7,253.9 L1755.7,252.1 L1755.8,250.5 L1755.9,249.0 L1755.9,247.5 L1756.0,246.2 L1756.1,245.0 L1756.1,243.9" fill="none" stroke="#ff0000" stroke-width="4" stroke-linejoin="round" stroke-linecap="round"/>
<path d="M80.4,357.7 L81.6,358.0 L83.1,358.1 L84.8,356.7 L86.8,358.0 L89.0,357.9 L91.2,358.5 L93.5,358.0 L95.9,358.4 L98.2,359.2 L100.4,359.0 L102.5,359.7 L104.5,359.0 L106.5,359.3 L108.6,360.7 L110.6,360.3 L112.6,360.6 L114.7,361.1 L116.7,360.5 L118.7,360.1 L120.7,361.7 L122.7,361.5 L124.6,361.8 L126.7,362.0 L128.8,363.0 L130.9,362.2 L133.0,363.3 L135.1,362.9 L137.1,363.7 L139.2,364.3 L141.1,363.9 L143.1,363.8 L145.0,364.8 L147.4,365.6 L149.7,365.5 L152.0,365.4 L154.3,365.9 L156.5,365.1 L158.5,365.3 L160.5,365.8 L162.3,367.0 L164.8,366.4 L166.8,366.9 L168.6,367.7 L170.4,368.5 L172.5,369.9 L174.4,371.3 L176.5,372.7 L178.6,372.7 L180.7,373.7 L182.8,374.4 L184.9,375.3 L187.1,377.0 L189.3,377.3 L191.5,377.4 L193.7,377.7 L195.7,379.7 L197.4,380.0 L199.9,380.7 L201.8,379.8 L203.6,381.3 L204.9,383.1 L206.2,383.8 L207.5,386.1 L208.7,386.4 L209.9,390.0 L210.8,389.9 L211.6,392.6 L212.4,393.9 L213.1,397.6 L213.8,399.6 L214.5,402.3 L215.0,403.3 L215.5,405.3 L216.0,407.4 L216.5,409.4 L216.9,411.5 L217.3,413.5 L217.7,415.4 L218.1,417.7 L218.4,420.0 L218.7,422.2 L219.0,424.4 L219.4,426.3 L220.0,427.9 L221.6,429.7 L223.6,430.6 L225.4,432.6 L226.0,434.1 L226.6,435.8 L227.2,437.8 L227.7,439.9 L228.2,442.1 L228.8,444.4 L229.3,446.6 L229.8,448.6 L230.3,450.6 L230.8,452.7 L231.3,454.9 L231.8,457.0 L232.3,459.2 L232.8,461.5 L233.2,463.7 L233.6,465.7 L233.9,467.7 L234.3,469.8 L234.6,471.9 L235.0,474.0 L235.3,476.1 L235.6,478.2 L236.0,480.3 L236.3,482.4 L236.6,484.5 L237.0,486.6 L237.3,488.7 L237.7,490.8 L238.0,492.9 L238.4,495.0 L238.7,497.0 L239.1,499.1 L239.5,501.1 L240.0,503.3 L240.4,505.5 L240.9,507.6 L241.5,509.7 L242.0,511.8 L242.5,513.9 L242.9,516.1 L243.4,518.3 L243.8,520.3 L244.1,522.3 L244.4,524.3 L244.7,526.3 L245.1,528.3 L245.4,530.4 L245.7,532.5 L246.1,534.7 L246.5,537.0 L246.9,539.0 L247.3,541.1 L247.7,543.3 L248.2,545.5 L248.7,547.8 L249.2,550.0 L249.6,552.3 L250.1,554.4 L250.5,556.4 L250.9,558.3 L251.2,560.0 L251.7,562.6 L252.0,564.9 L252.2,566.8 L252.4,568.5 L252.7,570.2 L253.0,572.0 L253.5,574.5 L254.0,577.1 L254.6,579.6 L255.2,581.6 L256.0,582.9 L257.6,582.5 L259.4,580.6 L261.4,579.9 L262.7,580.7 L264.0,582.0 L265.4,583.8 L266.8,585.7 L268.1,587.7 L269.1,589.4 L270.1,591.3 L271.1,593.3 L272.0,595.3 L273.0,597.5 L274.1,599.8 L275.0,601.6 L275.8,603.5 L276.8,605.4 L277.7,607.5 L278.6,609.5 L279.6,611.5 L280.4,613.5 L281.3,615.4 L282.2,617.5 L283.1,619.6 L284.0,621.7 L284.8,623.8 L285.6,625.8 L286.4,627.8 L287.3,629.9 L288.2,632.0 L289.0,634.1 L289.8,636.1 L290.7,638.2 L291.6,640.3 L292.5,642.3 L293.4,644.3 L294.4,646.3 L295.4,648.3 L296.4,650.2 L297.5,652.1 L298.5,654.0 L299.6,655.8 L300.6,657.6 L301.8,659.5 L303.0,661.4 L304.1,663.1 L305.3,664.9 L306.5,666.6 L307.8,668.4 L309.1,670.2 L310.5,672.0 L312.0,673.8 L313.4,675.6 L314.9,677.4 L316.3,679.3 L317.5,681.0 L318.7,682.6 L319.9,684.4 L321.1,686.1 L322.3,687.8 L323.5,689.6 L324.7,691.3 L325.9,693.1 L327.1,694.9 L328.4,696.7 L329.6,698.5 L330.8,700.2 L332.0,701.9 L333.1,703.4 L334.7,705.4 L336.3,707.4 L337.8,709.1 L339.2,710.6 L340.4,711.8 L344.0,713.0 L345.7,713.0 L347.8,712.8 L350.0,711.7 L351.2,710.6 L352.5,709.3 L353.9,707.7 L355.3,706.0 L356.7,704.2 L358.1,702.5 L359.5,700.8 L360.8,699.2 L362.2,697.5 L363.6,695.6 L364.9,693.7 L366.3,691.5 L367.2,689.9 L368.1,688.2 L369.0,686.4 L369.9,684.5 L370.8,682.6 L371.7,680.7 L372.6,678.8 L373.5,676.9 L374.4,675.0 L375.3,673.2 L376.2,671.4 L377.1,669.6 L378.0,667.8 L379.0,666.1 L379.9,664.3 L380.8,662.4 L381.7,660.6 L382.6,658.7 L383.5,656.8 L384.4,654.8 L385.3,652.8 L386.2,650.7 L387.1,648.7 L388.0,646.6 L388.9,644.6 L389.8,642.6 L390.7,640.7 L391.6,638.8 L392.5,636.9 L393.4,635.0 L394.3,633.2 L395.3,631.3 L396.2,629.5 L397.1,627.8 L398.0,626.1 L398.9,624.4 L400.1,622.3 L401.2,620.4 L402.4,618.4 L403.5,616.6 L404.7,614.8 L405.8,613.1 L407.0,611.4 L408.3,609.7 L409.6,608.2 L410.9,606.8 L412.2,605.4 L413.6,603.7 L415.2,601.6 L416.2,600.1 L417.3,598.5 L418.4,596.8 L419.5,595.1 L420.7,593.2 L421.9,591.3 L423.1,589.3 L424.4,587.4 L425.6,585.4 L426.9,583.5 L428.0,581.9 L429.0,580.3 L430.1,578.6 L431.3,577.0 L432.4,575.3 L433.5,573.6 L434.7,571.9 L435.8,570.2 L437.0,568.5 L438.1,566.8 L439.3,565.0 L440.4,563.3 L441.5,561.5 L442.7,559.8 L443.8,558.0 L444.9,556.1 L446.0,554.3 L447.2,552.5 L448.3,550.6 L449.4,548.8 L450.5,547.0 L451.7,545.2 L452.8,543.5 L453.9,541.8 L455.1,540.0 L456.3,538.2 L457.6,536.5 L458.8,534.7 L460.0,533.0 L461.2,531.3 L462.4,529.7 L463.6,528.0 L464.9,526.3 L466.1,524.6 L467.3,522.9 L468.5,521.2 L469.7,519.4 L471.0,517.7 L472.2,515.9 L473.4,514.2 L474.7,512.5 L475.9,510.7 L477.1,509.0 L478.3,507.4 L479.6,505.7 L480.8,504.1 L482.2,502.4 L483.5,500.7 L484.9,499.0 L486.2,497.3 L487.6,495.7 L488.9,494.1 L490.3,492.5 L491.6,490.9 L493.0,489.4 L494.3,487.9 L495.8,486.3 L497.3,484.7 L498.8,483.1 L500.3,481.6 L501.7,480.1 L503.2,478.6 L504.7,477.2 L506.2,475.8 L507.7,474.4 L509.4,472.9 L511.1,471.5 L512.8,470.1 L514.4,468.8 L516.1,467.5 L517.8,466.2 L519.5,464.9 L521.2,463.7 L522.9,462.5 L524.6,461.4 L526.3,460.2 L528.0,459.1 L529.6,458.1 L531.3,457.0 L533.0,456.0 L534.7,454.9 L536.6,453.7 L538.4,452.4 L540.2,451.1 L542.0,449.8 L543.9,448.7 L545.9,447.7 L548.1,446.8 L550.1,446.3 L552.3,445.9 L554.6,445.6 L557.0,445.3 L559.4,445.1 L561.7,445.0 L563.9,444.8 L565.7,444.6 L567.2,444.4 L569.8,442.9 L571.2,442.4 L572.8,443.4 L574.8,445.1 L577.0,446.9 L579.1,448.2 L581.1,448.3 L582.3,447.4 L583.4,445.9 L584.4,443.9 L585.4,441.7 L586.4,439.4 L587.7,437.2 L589.1,435.4 L590.6,434.0 L592.2,432.6 L594.0,431.2 L595.8,429.8 L597.7,428.6 L599.5,427.4 L601.3,426.4 L603.0,425.5 L605.2,424.6 L607.4,424.1 L609.6,423.8 L611.6,423.5 L613.4,423.2 L614.9,422.5 L616.3,421.1 L617.0,419.3 L617.7,417.4 L618.9,415.5 L620.0,414.3 L621.0,413.2 L622.2,412.0 L623.8,410.7 L625.9,409.3 L628.8,407.6 L630.1,406.9 L631.5,406.2 L633.0,405.4 L634.6,404.6 L636.3,403.8 L638.1,402.9 L639.9,402.0 L641.8,401.1 L643.8,400.2 L645.8,399.3 L647.9,398.4 L650.0,397.5 L652.1,396.5 L654.3,395.6 L656.4,394.6 L658.6,393.7 L660.3,393.0 L662.0,392.2 L663.8,391.5 L665.6,390.7 L667.4,389.9 L669.2,389.1 L671.1,388.3 L673.0,387.5 L675.0,386.7 L676.9,385.8 L678.9,385.0 L680.8,384.2 L682.8,383.4 L684.8,382.7 L686.7,381.9 L688.7,381.2 L690.7,380.4 L692.6,379.7 L694.6,379.1 L696.5,378.4 L698.4,377.8 L700.4,377.2 L702.4,376.6 L704.5,376.0 L706.5,375.5 L708.6,374.9 L710.7,374.4 L712.7,373.9 L714.8,373.5 L716.9,373.0 L718.9,372.6 L721.0,372.1 L723.0,371.7 L725.0,371.3 L727.0,370.9 L729.0,370.5 L730.9,370.2 L732.8,369.8 L734.6,369.5 L736.4,369.1 L738.2,368.8 L740.5,368.4 L742.8,368.0 L745.2,367.6 L747.4,367.2 L749.7,366.9 L751.9,366.6 L754.0,366.3 L756.1,366.0 L758.1,365.8 L760.1,365.6 L761.9,365.4 L763.6,365.2 L765.2,365.0 L766.7,364.9 L768.0,364.8 L771.5,365.1 L772.6,365.9 L775.9,365.8 L777.3,365.5 L778.8,365.2 L780.5,364.8 L782.4,364.3 L784.4,363.7 L786.5,363.2 L788.6,362.6 L790.8,362.0 L793.0,361.4 L795.1,360.8 L797.3,360.3 L799.3,359.8 L801.3,359.4 L803.2,359.0 L805.4,358.6 L807.4,358.3 L809.2,358.1 L811.0,357.8 L812.7,357.7 L814.5,357.5 L816.4,357.4 L818.5,357.3 L820.8,357.2 L823.4,357.2 L826.4,357.1 L828.0,357.1 L829.6,357.1 L831.3,357.1 L833.1,357.1 L834.9,357.1 L836.9,357.1 L838.8,357.1 L840.8,357.2 L842.9,357.2 L845.0,357.2 L847.1,357.3 L849.2,357.3 L851.4,357.4 L853.6,357.4 L855.8,357.5 L857.9,357.5 L860.1,357.6 L862.3,357.6 L864.4,357.7 L866.6,357.7 L868.7,357.7 L870.8,357.8 L872.8,357.8 L874.8,357.8 L876.8,357.8 L878.8,357.9 L880.7,357.9 L882.7,357.9 L884.6,357.9 L886.5,357.9 L888.5,358.0 L890.4,358.0 L892.3,358.0 L894.3,358.0 L896.2,358.0 L898.2,358.0 L900.1,358.0 L902.1,358.1 L904.2,358.1 L906.2,358.1 L908.3,358.1 L910.4,358.2 L912.5,358.2 L914.7,358.2 L916.9,358.3 L919.1,358.3 L920.9,358.3 L922.8,358.4 L924.8,358.4 L926.8,358.4 L928.8,358.4 L930.9,358.5 L933.1,358.5 L935.2,358.5 L937.4,358.6 L939.6,358.6 L941.8,358.6 L944.0,358.7 L946.2,358.7 L948.4,358.7 L950.6,358.8 L952.8,358.8 L955.0,358.8 L957.1,358.9 L959.2,358.9 L961.3,359.0 L963.3,359.1 L965.3,359.1 L967.2,359.2 L969.0,359.3 L970.8,359.3 L972.5,359.4 L974.1,359.5 L975.7,359.6 L977.1,359.7 L980.5,360.0 L983.3,360.4 L985.8,360.9 L987.8,361.4 L989.6,361.9 L991.3,363.1 L992.8,364.0 L994.4,363.4 L996.2,364.9 L998.1,364.7 L1000.3,363.9 L1002.3,365.6 L1004.4,364.2 L1006.6,363.8 L1008.9,363.5 L1011.2,364.4 L1013.6,363.6 L1016.0,365.3 L1018.3,365.3 L1020.6,363.4 L1022.8,363.0 L1024.8,363.9 L1026.7,363.0 L1028.5,363.8 L1030.0,364.4 L1033.9,362.8 L1036.2,362.9 L1037.9,363.8 L1039.9,362.7 L1042.3,362.6 L1044.6,364.2 L1046.9,364.5 L1049.1,365.4 L1051.2,366.1 L1053.2,367.0 L1055.1,369.2 L1057.3,370.7 L1059.3,370.8 L1061.4,370.3 L1063.5,370.7 L1065.5,371.0 L1067.3,371.8 L1069.4,370.3 L1071.0,368.8 L1073.1,368.2 L1074.8,365.9 L1076.8,366.6 L1078.9,365.5 L1081.0,365.7 L1083.0,366.1 L1085.4,364.6 L1087.8,366.3 L1090.1,364.5 L1092.1,366.2 L1094.2,367.7 L1096.0,368.9 L1097.9,371.6 L1099.6,372.9 L1101.3,374.3 L1103.0,376.3 L1104.6,375.3 L1106.9,375.7 L1109.5,375.5 L1111.4,373.7 L1113.5,375.4 L1115.7,373.8 L1117.8,375.2 L1119.8,374.6 L1121.7,376.0 L1123.5,376.9 L1125.3,377.1 L1127.6,379.9 L1129.7,380.8 L1131.7,383.1 L1133.0,384.4 L1134.3,386.3 L1135.5,388.2 L1136.8,389.7 L1138.0,392.8 L1139.2,392.5 L1140.4,396.2 L1141.6,397.9 L1142.8,398.7 L1144.2,401.4 L1145.5,403.3 L1146.7,405.2 L1147.9,406.7 L1148.8,408.7 L1149.7,410.8 L1150.5,413.2 L1151.3,415.3 L1152.1,417.4 L1152.8,419.4 L1153.5,421.5 L1154.2,423.5 L1154.8,425.6 L1155.5,427.6 L1156.2,429.6 L1156.9,431.7 L1157.5,433.7 L1158.2,435.8 L1158.9,437.8 L1159.6,439.8 L1160.3,441.8 L1160.9,443.7 L1161.6,445.8 L1162.3,448.0 L1162.9,450.0 L1163.4,452.1 L1164.0,454.2 L1164.6,456.4 L1165.1,458.6 L1165.7,460.8 L1166.3,463.0 L1166.8,465.1 L1167.3,467.3 L1167.9,469.5 L1168.5,471.5 L1169.1,473.5 L1169.9,475.8 L1170.8,478.0 L1171.6,480.1 L1172.5,482.0 L1173.4,483.7 L1174.8,485.8 L1176.2,487.4 L1177.6,488.8 L1179.7,491.0 L1181.9,492.2 L1184.0,492.0 L1186.1,489.7 L1186.8,488.3 L1187.5,486.6 L1188.2,484.7 L1189.0,482.6 L1189.7,480.4 L1190.5,478.2 L1191.2,476.1 L1191.9,474.0 L1192.7,471.8 L1193.4,469.6 L1194.1,467.4 L1194.8,465.3 L1195.6,463.3 L1196.3,461.6 L1197.5,459.1 L1198.7,456.9 L1200.0,455.3 L1201.4,454.0 L1203.7,453.2 L1206.3,453.1 L1208.2,453.1 L1209.7,452.8 L1211.1,453.5 L1212.9,454.5 L1214.9,456.1 L1216.8,458.4 L1217.6,459.7 L1218.4,461.2 L1219.2,462.8 L1220.0,464.5 L1220.8,466.4 L1221.5,468.5 L1222.3,470.6 L1223.1,472.9 L1223.9,475.4 L1224.4,477.1 L1224.9,478.8 L1225.4,480.7 L1225.9,482.6 L1226.3,484.5 L1226.8,486.6 L1227.3,488.6 L1227.8,490.7 L1228.3,492.9 L1228.8,495.0 L1229.3,497.2 L1229.8,499.4 L1230.4,501.6 L1230.9,503.8 L1231.4,505.7 L1231.9,507.8 L1232.5,509.8 L1233.0,511.9 L1233.6,514.1 L1234.1,516.2 L1234.7,518.4 L1235.3,520.5 L1235.9,522.7 L1236.4,524.8 L1237.0,526.9 L1237.5,529.0 L1238.1,530.9 L1238.6,532.8 L1239.0,534.7 L1239.5,536.4 L1240.2,539.0 L1240.8,541.5 L1241.4,543.8 L1242.0,546.0 L1242.6,548.2 L1243.1,550.2 L1243.6,552.1 L1244.1,554.0 L1244.6,555.8 L1245.1,557.6 L1245.7,560.0 L1246.3,562.2 L1246.8,564.2 L1247.3,566.2 L1247.9,568.0 L1248.6,569.9 L1249.4,571.8 L1250.4,573.7 L1251.5,575.6 L1252.7,577.5 L1254.0,579.4 L1255.3,581.2 L1256.6,582.9 L1257.9,584.6 L1259.3,586.4 L1260.8,588.0 L1262.2,589.5 L1263.7,591.0 L1265.1,592.6 L1266.4,594.5 L1267.5,596.3 L1268.5,598.2 L1269.5,600.3 L1270.5,602.4 L1271.5,604.5 L1272.5,606.6 L1273.5,608.7 L1274.5,610.6 L1275.4,612.8 L1276.4,615.0 L1277.4,617.3 L1278.5,619.3 L1279.4,621.0 L1280.4,622.2 L1281.3,622.8 L1282.7,622.6 L1284.0,621.2 L1285.2,619.0 L1286.4,616.2 L1287.6,612.9 L1288.1,611.4 L1288.6,609.7 L1289.1,607.9 L1289.5,606.0 L1290.0,604.0 L1290.5,601.9 L1290.9,599.8 L1291.4,597.6 L1291.9,595.3 L1292.3,593.1 L1292.8,590.9 L1293.3,588.8 L1293.8,586.8 L1294.2,584.8 L1294.7,582.7 L1295.2,580.6 L1295.7,578.5 L1296.2,576.3 L1296.7,574.2 L1297.1,572.1 L1297.6,570.0 L1298.1,567.9 L1298.6,565.9 L1299.0,563.9 L1299.5,562.0 L1300.0,559.8 L1300.5,557.7 L1301.1,555.6 L1301.6,553.6 L1302.1,551.6 L1302.6,549.6 L1303.1,547.7 L1303.6,545.7 L1304.0,543.8 L1304.5,541.9 L1305.0,540.0 L1305.5,537.9 L1306.0,535.9 L1306.6,533.9 L1307.1,531.9 L1307.6,529.9 L1308.1,527.9 L1308.6,525.9 L1309.0,524.0 L1309.5,522.0 L1310.0,520.0 L1310.5,518.0 L1310.9,515.9 L1311.4,513.9 L1311.8,511.8 L1312.3,509.8 L1312.7,507.7 L1313.2,505.7 L1313.6,503.8 L1314.0,501.9 L1314.5,500.0 L1315.1,497.7 L1315.6,495.3 L1316.2,493.0 L1316.7,490.7 L1317.3,488.6 L1317.9,486.6 L1318.5,484.9 L1319.1,483.5 L1320.8,481.1 L1322.7,480.2 L1324.7,479.8 L1326.8,479.8 L1329.1,480.4 L1331.5,481.5 L1333.4,482.5 L1335.4,483.8 L1337.5,485.4 L1339.5,487.2 L1340.8,488.6 L1342.1,490.2 L1343.5,491.9 L1344.8,493.7 L1346.1,495.5 L1347.4,497.4 L1348.5,499.1 L1349.7,500.8 L1350.9,502.5 L1352.1,504.3 L1353.2,506.2 L1354.3,508.0 L1355.4,509.9 L1356.4,511.8 L1357.4,513.6 L1358.4,515.5 L1359.3,517.5 L1360.3,519.4 L1361.2,521.4 L1362.2,523.5 L1363.1,525.4 L1363.9,527.3 L1364.8,529.2 L1365.7,531.2 L1366.5,533.3 L1367.4,535.3 L1368.2,537.3 L1369.0,539.4 L1369.8,541.5 L1370.5,543.6 L1371.2,545.7 L1371.9,547.8 L1372.6,550.0 L1373.3,552.1 L1374.0,554.3 L1374.6,556.4 L1375.2,558.5 L1375.8,560.6 L1376.5,562.8 L1377.0,564.9 L1377.6,567.0 L1378.2,569.1 L1378.7,571.3 L1379.2,573.4 L1379.7,575.5 L1380.1,577.6 L1380.6,579.8 L1381.0,581.9 L1381.4,584.0 L1381.8,586.1 L1382.2,588.3 L1382.6,590.4 L1383.0,592.4 L1383.4,594.3 L1383.9,596.1 L1384.3,597.9 L1384.7,599.8 L1385.1,602.0 L1385.6,604.5 L1386.0,607.4 L1386.2,609.0 L1386.4,610.8 L1386.6,612.6 L1386.8,614.5 L1387.0,616.5 L1387.2,618.5 L1387.4,620.6 L1387.6,622.8 L1387.8,625.0 L1388.0,627.2 L1388.3,629.4 L1388.5,631.7 L1388.7,633.9 L1389.0,636.2 L1389.2,638.4 L1389.5,640.6 L1389.8,642.6 L1390.0,644.5 L1390.3,646.5 L1390.6,648.5 L1390.9,650.6 L1391.2,652.6 L1391.5,654.6 L1391.9,656.7 L1392.2,658.8 L1392.5,660.8 L1392.8,662.9 L1393.2,665.0 L1393.5,667.1 L1393.8,669.1 L1394.1,671.2 L1394.4,673.3 L1394.7,675.3 L1395.0,677.4 L1395.3,679.5 L1395.6,681.6 L1395.8,683.8 L1396.1,686.1 L1396.3,688.4 L1396.6,690.7 L1396.9,692.9 L1397.1,695.2 L1397.4,697.5 L1397.6,699.7 L1397.9,701.8 L1398.1,703.9 L1398.3,705.9 L1398.6,707.8 L1398.8,709.6 L1399.1,711.3 L1399.3,712.9 L1399.6,714.3 L1400.5,717.8 L1401.4,719.4 L1402.3,720.4 L1403.2,722.0 L1404.2,725.3 L1404.5,726.8 L1404.8,728.4 L1405.2,730.2 L1405.5,732.2 L1405.8,734.3 L1406.2,736.5 L1406.5,738.8 L1406.9,741.1 L1407.2,743.4 L1407.6,745.8 L1407.9,748.1 L1408.3,750.4 L1408.6,752.6 L1408.9,754.7 L1409.2,756.7 L1409.5,758.6 L1409.8,760.3 L1410.2,762.8 L1410.6,765.0 L1411.0,766.8 L1411.3,768.5 L1411.6,770.1 L1411.9,771.7 L1412.2,773.4 L1412.6,775.3 L1412.9,777.5 L1413.3,780.0 L1413.5,781.7 L1413.8,783.4 L1414.0,785.3 L1414.3,787.2 L1414.5,789.2 L1414.8,791.2 L1415.0,793.3 L1415.3,795.4 L1415.5,797.6 L1415.8,799.8 L1416.0,802.0 L1416.3,804.2 L1416.6,806.5 L1416.9,808.7 L1417.1,811.0 L1417.4,813.2 L1417.7,815.4 L1418.0,817.4 L1418.2,819.4 L1418.5,821.5 L1418.7,823.6 L1419.0,825.7 L1419.2,827.8 L1419.5,830.0 L1419.8,832.1 L1420.0,834.3 L1420.3,836.4 L1420.6,838.5 L1420.9,840.7 L1421.2,842.7 L1421.5,844.8 L1421.8,846.8 L1422.1,848.8 L1422.4,850.7 L1422.7,852.6 L1423.0,854.4 L1423.5,856.8 L1423.9,859.1 L1424.4,861.4 L1424.9,863.6 L1425.4,865.8 L1425.9,867.9 L1426.4,869.9 L1427.0,871.9 L1427.5,873.9 L1428.0,875.8 L1428.5,877.6 L1429.1,879.4 L1429.6,881.1 L1430.1,882.8 L1430.9,885.3 L1431.6,887.6 L1432.4,889.8 L1433.2,891.8 L1433.9,893.7 L1434.7,895.5 L1435.5,897.2 L1436.3,898.9 L1437.2,900.5 L1438.6,902.5 L1440.2,903.9 L1441.8,905.1 L1443.3,906.5 L1444.8,908.4 L1446.1,911.1 L1446.6,912.6 L1447.1,914.2 L1447.5,916.0 L1447.9,918.0 L1448.3,920.0 L1448.7,922.1 L1449.1,924.3 L1449.4,926.5 L1449.8,928.8 L1450.1,931.0 L1450.4,933.2 L1450.8,935.4 L1451.1,937.5 L1451.4,939.5 L1451.7,941.6 L1452.0,943.6 L1452.3,945.6 L1452.6,947.6 L1452.8,949.6 L1453.0,951.5 L1453.3,953.5 L1453.5,955.5 L1453.7,957.5 L1454.0,959.6 L1454.3,961.6 L1454.6,963.8 L1454.9,966.0 L1455.2,967.9 L1455.5,969.9 L1455.8,972.0 L1456.1,974.1 L1456.5,976.3 L1456.8,978.6 L1457.1,980.8 L1457.5,983.0 L1457.8,985.2 L1458.2,987.4 L1458.5,989.4 L1458.9,991.4 L1459.2,993.3 L1459.6,995.0 L1459.9,996.5 L1460.2,997.9 L1461.3,1002.2 L1462.4,1005.0 L1463.5,1006.5 L1464.7,1006.8 L1465.6,1006.4 L1466.6,1005.4 L1467.6,1003.9 L1468.7,1001.9 L1469.8,999.3 L1470.9,996.2 L1471.4,994.8 L1471.8,993.2 L1472.3,991.5 L1472.8,989.7 L1473.3,987.8 L1473.8,985.8 L1474.3,983.7 L1474.8,981.6 L1475.2,979.4 L1475.7,977.2 L1476.2,974.9 L1476.7,972.7 L1477.1,970.4 L1477.6,968.2 L1478.0,966.0 L1478.4,964.1 L1478.7,962.1 L1479.0,960.2 L1479.4,958.3 L1479.7,956.3 L1480.0,954.4 L1480.3,952.4 L1480.6,950.4 L1480.9,948.4 L1481.2,946.3 L1481.5,944.2 L1481.8,942.1 L1482.1,939.9 L1482.4,937.7 L1482.7,935.4 L1483.0,933.0 L1483.3,930.6 L1483.5,928.8 L1483.7,927.0 L1484.0,925.2 L1484.2,923.3 L1484.4,921.4 L1484.6,919.4 L1484.8,917.5 L1485.1,915.5 L1485.3,913.4 L1485.5,911.4 L1485.7,909.3 L1486.0,907.3 L1486.2,905.2 L1486.4,903.1 L1486.6,901.0 L1486.8,898.9 L1487.1,896.9 L1487.3,894.8 L1487.5,892.7 L1487.7,890.7 L1487.9,888.7 L1488.2,886.7 L1488.4,884.7 L1488.6,882.8 L1488.8,880.7 L1489.1,878.6 L1489.3,876.5 L1489.6,874.5 L1489.8,872.4 L1490.1,870.3 L1490.4,868.2 L1490.6,866.2 L1490.9,864.1 L1491.1,862.1 L1491.4,860.1 L1491.6,858.0 L1491.9,856.0 L1492.1,854.0 L1492.4,852.0 L1492.6,850.1 L1492.8,848.1 L1493.1,846.2 L1493.3,844.2 L1493.5,842.3 L1493.7,840.4 L1493.9,838.5 L1494.1,836.3 L1494.3,834.2 L1494.5,832.1 L1494.7,830.0 L1494.9,827.9 L1495.1,825.8 L1495.3,823.8 L1495.5,821.7 L1495.6,819.7 L1495.8,817.7 L1496.0,815.7 L1496.1,813.7 L1496.3,811.8 L1496.4,809.8 L1496.6,807.8 L1496.7,805.9 L1496.9,803.9 L1497.0,802.0 L1497.2,800.0 L1497.4,797.8 L1497.5,795.7 L1497.7,793.5 L1497.8,791.4 L1498.0,789.2 L1498.1,787.1 L1498.3,785.0 L1498.4,782.9 L1498.6,780.8 L1498.7,778.7 L1498.9,776.6 L1499.0,774.5 L1499.1,772.4 L1499.3,770.4 L1499.5,768.3 L1499.6,766.3 L1499.8,764.2 L1500.0,762.1 L1500.2,760.1 L1500.3,758.0 L1500.5,755.9 L1500.7,753.8 L1500.9,751.7 L1501.1,749.6 L1501.3,747.5 L1501.5,745.5 L1501.7,743.4 L1501.9,741.4 L1502.1,739.4 L1502.3,737.5 L1502.5,735.6 L1502.8,733.7 L1503.0,731.9 L1503.2,730.1 L1503.5,727.7 L1503.9,725.4 L1504.2,723.1 L1504.6,721.0 L1504.9,718.9 L1505.3,716.8 L1505.7,714.8 L1506.0,712.8 L1506.4,710.8 L1506.7,708.8 L1507.1,706.7 L1507.4,704.6 L1507.7,702.5 L1508.0,700.4 L1508.3,698.2 L1508.6,696.1 L1508.9,694.0 L1509.1,691.9 L1509.4,689.7 L1509.7,687.6 L1510.0,685.5 L1510.2,683.4 L1510.5,681.2 L1510.8,679.1 L1511.1,676.9 L1511.4,674.8 L1511.6,672.5 L1511.9,670.3 L1512.2,668.0 L1512.4,665.8 L1512.7,663.6 L1513.0,661.5 L1513.3,659.4 L1513.6,657.4 L1513.9,655.4 L1514.2,653.6 L1514.7,651.1 L1515.2,648.8 L1515.8,646.6 L1516.3,644.6 L1516.9,642.6 L1517.5,640.7 L1518.0,638.7 L1518.5,636.6 L1519.0,634.5 L1519.4,632.5 L1519.9,630.6 L1520.3,628.6 L1520.7,626.5 L1521.1,624.4 L1521.5,622.0 L1521.9,619.5 L1522.1,617.7 L1522.4,615.8 L1522.6,613.9 L1522.8,611.9 L1523.0,609.9 L1523.2,607.8 L1523.3,605.7 L1523.5,603.4 L1523.7,601.2 L1523.9,598.8 L1524.2,596.4 L1524.4,594.0 L1524.6,592.2 L1524.8,590.3 L1525.0,588.4 L1525.2,586.4 L1525.4,584.3 L1525.6,582.2 L1525.8,580.1 L1526.0,577.9 L1526.2,575.8 L1526.4,573.6 L1526.7,571.5 L1526.9,569.5 L1527.1,567.4 L1527.3,565.5 L1527.5,563.5 L1527.6,561.7 L1527.8,560.0 L1528.0,557.4 L1528.2,554.8 L1528.3,552.3 L1528.4,549.9 L1528.5,547.5 L1528.7,545.3 L1528.8,543.2 L1529.0,541.3 L1529.2,539.6 L1529.5,538.2 L1529.9,537.0 L1532.1,536.9 L1534.9,539.4 L1537.3,537.0 L1537.5,535.9 L1537.7,534.7 L1537.9,533.3 L1538.1,531.7 L1538.3,530.1 L1538.4,528.3 L1538.6,526.4 L1538.7,524.4 L1538.8,522.4 L1538.9,520.3 L1539.1,518.1 L1539.2,515.8 L1539.3,513.5 L1539.4,511.2 L1539.5,508.9 L1539.6,506.5 L1539.7,504.2 L1539.9,501.9 L1540.0,499.6 L1540.2,497.3 L1540.3,495.1 L1540.5,493.0 L1540.7,491.1 L1540.8,489.1 L1541.0,487.1 L1541.2,485.1 L1541.4,483.1 L1541.6,481.1 L1541.8,479.1 L1542.0,477.1 L1542.2,475.0 L1542.4,473.0 L1542.6,470.9 L1542.8,468.9 L1543.1,466.8 L1543.3,464.7 L1543.5,462.7 L1543.7,460.6 L1543.9,458.5 L1544.1,456.4 L1544.3,454.4 L1544.6,452.3 L1544.8,450.2 L1545.0,448.2 L1545.2,446.1 L1545.4,444.1 L1545.6,442.0 L1545.8,440.0 L1546.0,437.9 L1546.2,435.8 L1546.4,433.6 L1546.6,431.5 L1546.8,429.3 L1547.0,427.2 L1547.2,425.0 L1547.4,422.9 L1547.6,420.8 L1547.8,418.6 L1548.1,416.5 L1548.3,414.4 L1548.5,412.3 L1548.7,410.3 L1548.9,408.3 L1549.1,406.3 L1549.3,404.3 L1549.5,402.4 L1549.7,400.5 L1549.9,398.7 L1550.1,396.9 L1550.3,395.2 L1550.6,392.7 L1550.9,390.2 L1551.2,387.8 L1551.5,385.5 L1551.8,383.2 L1552.1,381.0 L1552.4,378.9 L1552.8,376.8 L1553.1,374.8 L1553.4,372.9 L1553.7,371.0 L1554.0,369.2 L1554.3,367.4 L1554.6,365.7 L1554.9,364.1 L1555.2,362.6 L1555.8,359.7 L1556.4,357.0 L1557.1,354.6 L1557.7,352.5 L1558.3,350.6 L1558.9,349.1 L1559.5,347.9 L1560.1,347.1 L1561.6,346.1 L1563.0,347.4 L1564.2,352.8 L1564.4,354.0 L1564.5,355.3 L1564.6,356.7 L1564.8,358.3 L1564.9,359.9 L1565.0,361.6 L1565.1,363.4 L1565.2,365.2 L1565.3,367.2 L1565.4,369.2 L1565.5,371.3 L1565.6,373.5 L1565.7,375.7 L1565.8,378.0 L1565.9,380.4 L1566.0,382.7 L1566.1,385.2 L1566.2,387.6 L1566.3,390.1 L1566.5,392.6 L1566.6,395.2 L1566.7,396.9 L1566.8,398.7 L1566.9,400.5 L1567.0,402.4 L1567.1,404.4 L1567.2,406.4 L1567.3,408.4 L1567.4,410.5 L1567.5,412.6 L1567.6,414.7 L1567.7,416.9 L1567.8,419.1 L1568.0,421.3 L1568.1,423.5 L1568.2,425.7 L1568.3,427.9 L1568.4,430.1 L1568.5,432.3 L1568.6,434.5 L1568.7,436.7 L1568.9,438.9 L1569.0,441.1 L1569.1,443.2 L1569.2,445.3 L1569.3,447.3 L1569.4,449.4 L1569.5,451.3 L1569.6,453.3 L1569.7,455.1 L1569.7,457.0 L1569.8,458.7 L1569.9,460.4 L1570.0,463.0 L1570.1,465.7 L1570.2,468.3 L1570.3,470.8 L1570.3,473.4 L1570.4,475.8 L1570.5,478.3 L1570.5,480.6 L1570.6,482.9 L1570.6,485.1 L1570.7,487.2 L1570.7,489.3 L1570.8,491.2 L1570.8,493.0 L1570.9,494.7 L1571.0,496.3 L1571.1,497.7 L1571.2,499.0 L1571.3,500.1 L1571.5,501.1 L1572.9,501.9 L1574.6,497.7 L1576.4,496.3 L1577.0,497.6 L1577.5,499.8 L1578.2,502.5 L1578.8,505.6 L1579.4,508.8 L1580.0,511.8 L1580.6,514.4 L1581.2,516.4 L1581.7,517.5 L1582.1,517.4 L1582.3,516.7 L1582.5,515.7 L1582.7,514.3 L1582.8,512.5 L1583.0,510.5 L1583.1,508.2 L1583.2,505.8 L1583.3,503.3 L1583.4,500.6 L1583.5,497.9 L1583.6,495.2 L1583.7,492.6 L1583.8,490.0 L1584.0,487.6 L1584.1,485.3 L1584.3,483.3 L1584.5,481.6 L1584.9,478.9 L1585.4,476.5 L1585.9,474.5 L1586.5,472.7 L1587.1,471.0 L1587.7,469.4 L1588.3,467.7 L1588.8,465.8 L1589.4,463.7 L1589.8,461.8 L1590.3,459.9 L1590.7,457.9 L1591.1,455.8 L1591.5,453.7 L1592.0,451.6 L1592.4,449.4 L1592.8,447.3 L1593.3,445.1 L1593.8,443.0 L1594.3,440.8 L1594.8,438.8 L1595.3,436.6 L1595.8,434.3 L1596.3,432.1 L1596.9,429.8 L1597.4,427.5 L1598.0,425.3 L1598.6,423.1 L1599.1,421.2 L1599.7,419.4 L1600.2,417.8 L1600.8,416.4 L1602.5,414.0 L1604.3,413.2 L1606.0,412.8 L1607.4,411.5 L1608.1,409.8 L1608.7,407.8 L1609.1,405.6 L1609.5,403.3 L1610.0,400.9 L1610.6,398.5 L1611.2,396.0 L1611.9,392.7 L1612.6,389.2 L1613.3,386.0 L1614.1,383.7 L1614.8,382.8 L1615.5,383.8 L1615.7,384.7 L1615.9,386.0 L1616.2,387.6 L1616.4,389.5 L1616.6,391.7 L1616.8,394.1 L1617.0,396.7 L1617.2,399.4 L1617.4,402.3 L1617.6,405.1 L1617.9,408.0 L1618.1,410.9 L1618.3,413.7 L1618.5,416.4 L1618.7,419.0 L1618.9,421.3 L1619.2,423.5 L1619.4,425.4 L1619.7,426.9 L1619.9,428.1 L1620.1,429.0 L1620.4,429.4 L1620.7,429.3 L1621.0,428.8 L1621.3,427.8 L1621.7,426.4 L1622.0,424.7 L1622.3,422.6 L1622.7,420.4 L1623.0,417.9 L1623.4,415.3 L1623.7,412.5 L1624.1,409.8 L1624.4,407.0 L1624.8,404.3 L1625.1,401.7 L1625.5,399.2 L1625.9,397.0 L1626.2,395.0 L1626.6,393.3 L1626.9,391.9 L1628.6,387.9 L1630.4,386.2 L1632.0,385.7 L1633.4,385.4 L1636.2,387.8 L1636.6,389.3 L1637.1,391.3 L1637.5,393.6 L1638.0,396.0 L1638.4,398.6 L1638.9,401.1 L1639.4,403.4 L1639.8,405.5 L1640.3,407.9 L1640.7,410.3 L1641.1,412.8 L1641.6,415.0 L1642.1,416.9 L1642.7,418.2 L1643.3,419.0 L1644.5,418.5 L1646.0,416.3 L1647.5,413.4 L1649.0,410.9 L1650.3,409.6 L1652.1,410.1 L1653.6,412.3 L1654.9,415.9 L1655.3,417.4 L1655.7,419.1 L1656.1,420.9 L1656.4,422.9 L1656.8,425.1 L1657.1,427.3 L1657.4,429.7 L1657.8,432.1 L1658.1,434.6 L1658.3,436.4 L1658.6,438.4 L1658.8,440.4 L1659.0,442.5 L1659.2,444.7 L1659.4,446.9 L1659.7,449.2 L1659.9,451.3 L1660.1,453.5 L1660.4,455.6 L1660.6,457.5 L1660.9,459.4 L1661.2,461.1 L1661.7,463.4 L1662.3,465.3 L1662.8,466.9 L1663.5,468.3 L1664.1,469.8 L1664.7,471.6 L1665.3,473.9 L1665.9,476.7 L1666.2,478.2 L1666.4,479.9 L1666.7,481.7 L1666.9,483.7 L1667.2,485.7 L1667.4,487.9 L1667.7,490.1 L1667.9,492.3 L1668.2,494.6 L1668.5,496.9 L1668.7,499.1 L1669.0,501.3 L1669.2,503.5 L1669.5,505.5 L1669.7,507.5 L1670.0,509.3 L1670.2,511.0 L1670.5,512.5 L1671.1,515.4 L1671.7,517.8 L1672.3,519.8 L1672.8,521.6 L1673.4,523.1 L1674.0,524.7 L1674.6,526.3 L1675.2,528.1 L1675.8,529.9 L1676.4,531.6 L1677.0,533.3 L1677.5,534.9 L1678.1,536.7 L1678.7,538.7 L1679.3,541.0 L1679.9,543.7 L1680.2,545.3 L1680.5,547.0 L1680.9,548.7 L1681.2,550.5 L1681.5,552.4 L1681.8,554.3 L1682.2,556.3 L1682.5,558.4 L1682.8,560.6 L1683.1,562.8 L1683.4,565.1 L1683.7,567.4 L1684.0,569.9 L1684.3,572.3 L1684.6,574.9 L1684.8,576.6 L1684.9,578.4 L1685.1,580.2 L1685.3,582.1 L1685.4,584.1 L1685.6,586.1 L1685.8,588.1 L1685.9,590.2 L1686.1,592.3 L1686.2,594.4 L1686.4,596.5 L1686.5,598.6 L1686.7,600.8 L1686.8,602.9 L1687.0,605.0 L1687.1,607.2 L1687.2,609.3 L1687.4,611.3 L1687.5,613.4 L1687.7,615.4 L1687.8,617.4 L1688.0,619.3 L1688.1,621.2 L1688.3,623.4 L1688.4,625.7 L1688.6,627.9 L1688.8,630.1 L1688.9,632.3 L1689.1,634.5 L1689.3,636.6 L1689.4,638.8 L1689.6,640.9 L1689.8,643.0 L1689.9,645.0 L1690.1,647.1 L1690.2,649.1 L1690.4,651.0 L1690.6,652.9 L1690.7,654.8 L1690.9,656.7 L1691.0,658.5 L1691.2,660.2 L1691.4,662.7 L1691.7,665.1 L1691.9,667.5 L1692.1,669.7 L1692.3,671.9 L1692.5,674.1 L1692.7,676.1 L1692.9,678.1 L1693.2,680.0 L1693.4,681.8 L1693.7,683.5 L1694.0,685.2 L1694.3,686.7 L1695.1,689.8 L1696.0,692.6 L1696.9,694.9 L1697.9,696.9 L1698.9,698.3 L1699.8,699.1 L1701.2,699.4 L1702.6,698.6 L1703.9,696.5 L1705.2,692.9 L1705.6,691.4 L1705.9,689.7 L1706.3,687.6 L1706.6,685.3 L1707.0,682.9 L1707.3,680.4 L1707.7,677.8 L1708.0,675.3 L1708.4,672.8 L1708.7,670.4 L1709.0,668.2 L1709.3,666.3 L1709.6,664.6 L1709.9,663.3 L1713.0,661.7 L1713.4,662.7 L1713.8,664.0 L1714.2,665.5 L1714.7,667.2 L1715.1,669.1 L1715.6,671.1 L1716.0,673.3 L1716.5,675.7 L1716.9,678.2 L1717.3,680.8 L1717.7,683.5 L1717.9,685.1 L1718.1,686.8 L1718.3,688.6 L1718.5,690.4 L1718.6,692.3 L1718.8,694.3 L1719.0,696.3 L1719.1,698.3 L1719.3,700.4 L1719.4,702.5 L1719.6,704.6 L1719.7,706.8 L1719.9,709.0 L1720.0,711.2 L1720.2,713.5 L1720.3,715.7 L1720.5,718.0 L1720.6,720.2 L1720.8,722.5 L1720.9,724.4 L1721.1,726.4 L1721.2,728.4 L1721.3,730.5 L1721.5,732.6 L1721.6,734.8 L1721.7,737.0 L1721.9,739.2 L1722.0,741.5 L1722.1,743.7 L1722.3,746.0 L1722.4,748.2 L1722.6,750.4 L1722.7,752.5 L1722.8,754.7 L1723.0,756.8 L1723.1,758.8 L1723.2,760.7 L1723.4,762.6 L1723.5,764.4 L1723.6,766.2 L1723.8,767.8 L1723.9,769.3 L1724.2,772.6 L1724.5,775.7 L1724.8,778.6 L1725.1,781.3 L1725.4,783.6 L1725.8,785.7 L1726.1,787.3 L1726.4,788.6 L1726.7,789.3 L1727.0,789.6 L1727.3,789.3 L1727.6,788.3 L1728.0,786.8 L1728.3,784.9 L1728.6,782.7 L1728.9,780.2 L1729.2,777.5 L1729.6,774.7 L1729.9,772.0 L1730.2,769.3 L1730.4,767.6 L1730.6,765.7 L1730.8,763.9 L1731.0,762.0 L1731.2,760.0 L1731.4,758.0 L1731.7,755.9 L1731.9,753.8 L1732.1,751.7 L1732.3,749.5 L1732.5,747.3 L1732.7,745.0 L1732.9,742.7 L1733.1,740.4 L1733.3,738.1 L1733.5,736.2 L1733.6,734.3 L1733.8,732.2 L1734.0,730.2 L1734.1,728.0 L1734.3,725.9 L1734.5,723.7 L1734.6,721.5 L1734.8,719.3 L1735.0,717.1 L1735.2,714.9 L1735.3,712.8 L1735.5,710.6 L1735.6,708.6 L1735.8,706.5 L1736.0,704.6 L1736.1,702.6 L1736.3,700.8 L1736.4,699.1 L1736.6,696.5 L1736.8,693.9 L1737.0,691.4 L1737.2,689.1 L1737.3,686.8 L1737.5,684.6 L1737.7,682.5 L1737.8,680.6 L1738.0,678.8 L1738.2,677.1 L1738.5,675.6 L1738.7,674.2 L1739.9,670.6 L1741.2,669.0 L1742.6,668.0 L1744.7,667.7 L1746.5,666.4 L1746.8,665.2 L1747.1,663.8 L1747.3,662.2 L1747.5,660.3 L1747.7,658.0 L1747.9,655.4 L1748.1,652.4 L1748.2,650.9 L1748.4,649.4 L1748.5,647.9 L1748.7,646.3 L1748.8,644.7 L1748.9,643.0 L1749.1,641.2 L1749.3,639.3 L1749.4,637.3 L1749.6,635.1 L1749.7,632.7 L1749.9,630.2 L1750.1,627.4 L1750.2,624.4 L1750.4,621.2 L1750.5,619.7 L1750.6,618.0 L1750.6,616.3 L1750.7,614.5 L1750.8,612.7 L1750.9,610.7 L1751.0,608.7 L1751.0,606.6 L1751.1,604.5 L1751.2,602.3 L1751.3,600.1 L1751.4,597.9 L1751.5,595.6 L1751.5,593.3 L1751.6,591.0 L1751.7,588.7 L1751.8,586.4 L1751.9,584.0 L1752.0,581.7 L1752.1,579.4 L1752.1,577.1 L1752.2,574.8 L1752.3,572.6 L1752.4,570.4 L1752.5,568.2 L1752.6,566.1 L1752.6,564.0 L1752.7,562.0 L1752.8,560.0 L1752.9,558.2 L1753.0,556.4 L1753.0,554.7 L1753.1,553.0 L1753.2,551.5 L1753.4,548.3 L1753.5,545.3 L1753.7,542.6 L1753.9,540.2 L1754.1,537.9 L1754.2,535.8 L1754.4,533.8 L1754.6,532.0 L1754.7,530.3 L1754.9,528.6 L1755.0,526.9 L1755.1,525.3 L1755.3,523.7 L1755.4,522.0 L1755.5,520.3 L1755.6,517.6 L1755.8,515.0 L1755.9,512.4 L1756.0,509.9 L1756.0,507.4 L1756.1,505.2 L1756.2,503.1 L1756.2,501.3 L1756.3,499.8 L1756.3,498.5" fill="none" stroke="#000" stroke-width="4" stroke-linejoin="round" stroke-linecap="round"/>
<rect x="1753.7" y="242.8" width="4.5" height="21" fill="#ff0000"/>
<rect x="1753.8" y="497.3" width="4.3" height="28" fill="#000"/>
<line x1="77.5" y1="1183.5" x2="1759.8" y2="1183.5" stroke="#000" stroke-width="5"/>
<line x1="79.5" y1="1183.5" x2="79.5" y2="1211" stroke="#000" stroke-width="4"/>
<line x1="196.1" y1="1183.5" x2="196.1" y2="1198" stroke="#000" stroke-width="4"/>
<line x1="312.7" y1="1183.5" x2="312.7" y2="1211" stroke="#000" stroke-width="4"/>
<line x1="429.2" y1="1183.5" x2="429.2" y2="1198" stroke="#000" stroke-width="4"/>
<line x1="545.8" y1="1183.5" x2="545.8" y2="1211" stroke="#000" stroke-width="4"/>
<line x1="662.4" y1="1183.5" x2="662.4" y2="1198" stroke="#000" stroke-width="4"/>
<line x1="779.0" y1="1183.5" x2="779.0" y2="1211" stroke="#000" stroke-width="4"/>
<line x1="895.6" y1="1183.5" x2="895.6" y2="1198" stroke="#000" stroke-width="4"/>
<line x1="1012.2" y1="1183.5" x2="1012.2" y2="1211" stroke="#000" stroke-width="4"/>
<line x1="1128.7" y1="1183.5" x2="1128.7" y2="1198" stroke="#000" stroke-width="4"/>
<line x1="1245.3" y1="1183.5" x2="1245.3" y2="1211" stroke="#000" stroke-width="4"/>
<line x1="1361.9" y1="1183.5" x2="1361.9" y2="1198" stroke="#000" stroke-width="4"/>
<line x1="1478.5" y1="1183.5" x2="1478.5" y2="1211" stroke="#000" stroke-width="4"/>
<line x1="1595.1" y1="1183.5" x2="1595.1" y2="1198" stroke="#000" stroke-width="4"/>
<line x1="1711.7" y1="1183.5" x2="1711.7" y2="1211" stroke="#000" stroke-width="4"/>
<text transform="translate(79.50,1269.20) scale(0.9693,1)" text-anchor="middle" style="font-family:'Liberation Serif','Times New Roman',serif;font-size:60.48px;font-weight:normal">4000</text>
<text transform="translate(312.67,1269.20) scale(0.9693,1)" text-anchor="middle" style="font-family:'Liberation Serif','Times New Roman',serif;font-size:60.48px;font-weight:normal">3500</text>
<text transform="translate(545.83,1269.20) scale(0.9693,1)" text-anchor="middle" style="font-family:'Liberation Serif','Times New Roman',serif;font-size:60.48px;font-weight:normal">3000</text>
<text transform="translate(779.00,1269.20) scale(0.9693,1)" text-anchor="middle" style="font-family:'Liberation Serif','Times New Roman',serif;font-size:60.48px;font-weight:normal">2500</text>
<text transform="translate(1012.16,1269.20) scale(0.9693,1)" text-anchor="middle" style="font-family:'Liberation Serif','Times New Roman',serif;font-size:60.48px;font-weight:normal">2000</text>
<text transform="translate(1245.33,1269.20) scale(0.9693,1)" text-anchor="middle" style="font-family:'Liberation Serif','Times New Roman',serif;font-size:60.48px;font-weight:normal">1500</text>
<text transform="translate(1478.49,1269.20) scale(0.9693,1)" text-anchor="middle" style="font-family:'Liberation Serif','Times New Roman',serif;font-size:60.48px;font-weight:normal">1000</text>
<text transform="translate(1711.65,1269.20) scale(0.9693,1)" text-anchor="middle" style="font-family:'Liberation Serif','Times New Roman',serif;font-size:60.48px;font-weight:normal">500</text>
<text transform="translate(304.55,74.88) scale(0.9440,1)" stroke="#fff" stroke-width="0.5" style="font-family:'Liberation Serif','Times New Roman',serif;font-size:38.80px;font-weight:normal">3431</text>
<text transform="translate(585.03,68.19) scale(0.9440,1)" stroke="#fff" stroke-width="0.5" style="font-family:'Liberation Serif','Times New Roman',serif;font-size:38.80px;font-weight:normal">2856</text>
<text transform="translate(541.03,105.00) scale(0.9440,1)" stroke="#fff" stroke-width="0.5" style="font-family:'Liberation Serif','Times New Roman',serif;font-size:38.80px;font-weight:normal">2926</text>
<text transform="translate(1139.01,69.42) scale(0.9440,1)" stroke="#fff" stroke-width="0.5" style="font-family:'Liberation Serif','Times New Roman',serif;font-size:38.80px;font-weight:normal">1636</text>
<text transform="translate(1247.67,69.60) scale(0.9440,1)" stroke="#fff" stroke-width="0.5" style="font-family:'Liberation Serif','Times New Roman',serif;font-size:38.80px;font-weight:normal">1420</text>
<text transform="translate(1199.71,99.19) scale(0.9440,1)" stroke="#fff" stroke-width="0.5" style="font-family:'Liberation Serif','Times New Roman',serif;font-size:38.80px;font-weight:normal">1492</text>
<text transform="translate(1426.56,70.29) scale(0.9440,1)" stroke="#fff" stroke-width="0.5" style="font-family:'Liberation Serif','Times New Roman',serif;font-size:38.80px;font-weight:normal">1031</text>
<text transform="translate(1530.54,62.48) scale(0.9440,1)" stroke="#fff" stroke-width="0.5" style="font-family:'Liberation Serif','Times New Roman',serif;font-size:38.80px;font-weight:normal">797</text>
<text transform="translate(1567.11,100.62) scale(0.9440,1)" stroke="#fff" stroke-width="0.5" style="font-family:'Liberation Serif','Times New Roman',serif;font-size:38.80px;font-weight:normal">778</text>
<text transform="translate(1665.88,67.48) scale(0.9440,1)" stroke="#fff" stroke-width="0.5" style="font-family:'Liberation Serif','Times New Roman',serif;font-size:38.80px;font-weight:normal">526</text>
<text transform="translate(1706.00,115.00) scale(0.9440,1)" stroke="#fff" stroke-width="0.5" style="font-family:'Liberation Serif','Times New Roman',serif;font-size:38.80px;font-weight:normal">468</text>
<text transform="translate(71.95,104.07) scale(1.0100,1)" style="font-family:'Liberation Serif','Times New Roman',serif;font-size:52.20px;font-weight:bold">GO-1.2</text>
<text transform="translate(75.38,331.33) scale(1.0100,1)" style="font-family:'Liberation Serif','Times New Roman',serif;font-size:52.20px;font-weight:bold">GO-0</text>
<text transform="translate(297.81,769.93) scale(1.0100,1)" style="font-family:'Liberation Serif','Times New Roman',serif;font-size:52.30px;font-weight:normal">-OH</text>
<text transform="translate(548.52,616.81) scale(1.0100,1)" style="font-family:'Liberation Serif','Times New Roman',serif;font-size:52.30px;font-weight:normal">-CH</text>
<text transform="translate(1131.15,671.94) scale(1.0100,1)" style="font-family:'Liberation Serif','Times New Roman',serif;font-size:52.30px;font-weight:normal">C=C</text>
<text transform="translate(1230.41,759.42) scale(1.0100,1)" style="font-family:'Liberation Serif','Times New Roman',serif;font-size:52.30px;font-weight:normal">COO</text>
<text transform="translate(1383.50,1076.21) scale(1.0100,1)" style="font-family:'Liberation Serif','Times New Roman',serif;font-size:52.30px;font-weight:normal">Si-O-Si</text>
<text transform="translate(1520.25,925.21) scale(1.0100,1)" style="font-family:'Liberation Serif','Times New Roman',serif;font-size:52.30px;font-weight:normal">Si-O</text>
<text transform="translate(1619.51,856.45) scale(1.0100,1)" style="font-family:'Liberation Serif','Times New Roman',serif;font-size:52.30px;font-weight:normal">Si-O-Al</text>
<text transform="translate(644.91,1364.91) scale(1.0344,1)" style="font-family:'Liberation Serif','Times New Roman',serif;font-size:62.20px;font-weight:bold">Wavenumber (cm</text>
<text transform="translate(1132.23,1340.56) scale(1.4819,1)" style="font-family:'Liberation Serif','Times New Roman',serif;font-size:27.93px;font-weight:normal">&#8722;</text>
<text transform="translate(1153.53,1341.48) scale(0.8394,1)" style="font-family:'Liberation Serif','Times New Roman',serif;font-size:33.31px;font-weight:bold">1</text>
<text transform="translate(1169.71,1364.99) scale(1.2034,1)" style="font-family:'Liberation Serif','Times New Roman',serif;font-size:61.73px;font-weight:bold">)</text>
<text transform="translate(1341.13,732.00) scale(0.9473,1)" style="font-family:'Liberation Serif','Times New Roman',serif;font-size:53.00px;font-weight:bold">-</text>
<line x1="344.2" y1="41" x2="344.2" y2="964" stroke="#6a6a6a" stroke-width="3.2" stroke-dasharray="10 6.3"/>
<line x1="344.2" y1="964" x2="344.2" y2="1019" stroke="#000" stroke-width="2.2" stroke-dasharray="9.5 7"/>
<line x1="344.2" y1="1019" x2="344.2" y2="1126" stroke="#6a6a6a" stroke-width="3.2" stroke-dasharray="10 6.3"/>
<line x1="344.2" y1="1126" x2="344.2" y2="1181.0" stroke="#000" stroke-width="2.2" stroke-dasharray="9.5 7"/>
<line x1="580.9" y1="36" x2="580.9" y2="964" stroke="#222" stroke-width="2" stroke-dasharray="10 6.3"/>
<line x1="580.9" y1="964" x2="580.9" y2="1019" stroke="#000" stroke-width="1.6" stroke-dasharray="9.5 7"/>
<line x1="580.9" y1="1019" x2="580.9" y2="1126" stroke="#222" stroke-width="2" stroke-dasharray="10 6.3"/>
<line x1="580.9" y1="1126" x2="580.9" y2="1181.0" stroke="#000" stroke-width="1.6" stroke-dasharray="9.5 7"/>
<line x1="615.9" y1="35" x2="615.9" y2="964" stroke="#6a6a6a" stroke-width="3.2" stroke-dasharray="10 6.3"/>
<line x1="615.9" y1="964" x2="615.9" y2="1019" stroke="#000" stroke-width="2.2" stroke-dasharray="9.5 7"/>
<line x1="615.9" y1="1019" x2="615.9" y2="1126" stroke="#6a6a6a" stroke-width="3.2" stroke-dasharray="10 6.3"/>
<line x1="615.9" y1="1126" x2="615.9" y2="1181.0" stroke="#000" stroke-width="2.2" stroke-dasharray="9.5 7"/>
<line x1="1182" y1="37" x2="1182" y2="964" stroke="#6a6a6a" stroke-width="3.2" stroke-dasharray="10 6.3"/>
<line x1="1182" y1="964" x2="1182" y2="1019" stroke="#000" stroke-width="2.2" stroke-dasharray="9.5 7"/>
<line x1="1182" y1="1019" x2="1182" y2="1126" stroke="#6a6a6a" stroke-width="3.2" stroke-dasharray="10 6.3"/>
<line x1="1182" y1="1126" x2="1182" y2="1181.0" stroke="#000" stroke-width="2.2" stroke-dasharray="9.5 7"/>
<line x1="1247.8" y1="35" x2="1247.8" y2="964" stroke="#6a6a6a" stroke-width="3.2" stroke-dasharray="10 6.3"/>
<line x1="1247.8" y1="964" x2="1247.8" y2="1019" stroke="#000" stroke-width="2.2" stroke-dasharray="9.5 7"/>
<line x1="1247.8" y1="1019" x2="1247.8" y2="1126" stroke="#6a6a6a" stroke-width="3.2" stroke-dasharray="10 6.3"/>
<line x1="1247.8" y1="1126" x2="1247.8" y2="1181.0" stroke="#000" stroke-width="2.2" stroke-dasharray="9.5 7"/>
<line x1="1280.8" y1="35" x2="1280.8" y2="964" stroke="#222" stroke-width="2" stroke-dasharray="10 6.3"/>
<line x1="1280.8" y1="964" x2="1280.8" y2="1019" stroke="#000" stroke-width="1.6" stroke-dasharray="9.5 7"/>
<line x1="1280.8" y1="1019" x2="1280.8" y2="1126" stroke="#222" stroke-width="2" stroke-dasharray="10 6.3"/>
<line x1="1280.8" y1="1126" x2="1280.8" y2="1181.0" stroke="#000" stroke-width="1.6" stroke-dasharray="9.5 7"/>
<line x1="1464.8" y1="38" x2="1464.8" y2="964" stroke="#222" stroke-width="2" stroke-dasharray="10 6.3"/>
<line x1="1464.8" y1="964" x2="1464.8" y2="1019" stroke="#000" stroke-width="1.6" stroke-dasharray="9.5 7"/>
<line x1="1464.8" y1="1019" x2="1464.8" y2="1126" stroke="#222" stroke-width="2" stroke-dasharray="10 6.3"/>
<line x1="1464.8" y1="1126" x2="1464.8" y2="1181.0" stroke="#000" stroke-width="1.6" stroke-dasharray="9.5 7"/>
<line x1="1570.3" y1="33" x2="1570.3" y2="964" stroke="#6a6a6a" stroke-width="3.2" stroke-dasharray="10 6.3"/>
<line x1="1570.3" y1="964" x2="1570.3" y2="1019" stroke="#000" stroke-width="2.2" stroke-dasharray="9.5 7"/>
<line x1="1570.3" y1="1019" x2="1570.3" y2="1126" stroke="#6a6a6a" stroke-width="3.2" stroke-dasharray="10 6.3"/>
<line x1="1570.3" y1="1126" x2="1570.3" y2="1181.0" stroke="#000" stroke-width="2.2" stroke-dasharray="9.5 7"/>
<line x1="1583.7" y1="35" x2="1583.7" y2="964" stroke="#6a6a6a" stroke-width="3.2" stroke-dasharray="10 6.3"/>
<line x1="1583.7" y1="964" x2="1583.7" y2="1019" stroke="#000" stroke-width="2.2" stroke-dasharray="9.5 7"/>
<line x1="1583.7" y1="1019" x2="1583.7" y2="1126" stroke="#6a6a6a" stroke-width="3.2" stroke-dasharray="10 6.3"/>
<line x1="1583.7" y1="1126" x2="1583.7" y2="1181.0" stroke="#000" stroke-width="2.2" stroke-dasharray="9.5 7"/>
<line x1="1700" y1="35.5" x2="1700" y2="964" stroke="#6a6a6a" stroke-width="3.2" stroke-dasharray="10 6.3"/>
<line x1="1700" y1="964" x2="1700" y2="1019" stroke="#000" stroke-width="2.2" stroke-dasharray="9.5 7"/>
<line x1="1700" y1="1019" x2="1700" y2="1126" stroke="#6a6a6a" stroke-width="3.2" stroke-dasharray="10 6.3"/>
<line x1="1700" y1="1126" x2="1700" y2="1181.0" stroke="#000" stroke-width="2.2" stroke-dasharray="9.5 7"/>
<line x1="1727" y1="35.5" x2="1727" y2="964" stroke="#222" stroke-width="2" stroke-dasharray="10 6.3"/>
<line x1="1727" y1="964" x2="1727" y2="1019" stroke="#000" stroke-width="1.6" stroke-dasharray="9.5 7"/>
<line x1="1727" y1="1019" x2="1727" y2="1126" stroke="#222" stroke-width="2" stroke-dasharray="10 6.3"/>
<line x1="1727" y1="1126" x2="1727" y2="1181.0" stroke="#000" stroke-width="1.6" stroke-dasharray="9.5 7"/>
</svg>
</body></html>
